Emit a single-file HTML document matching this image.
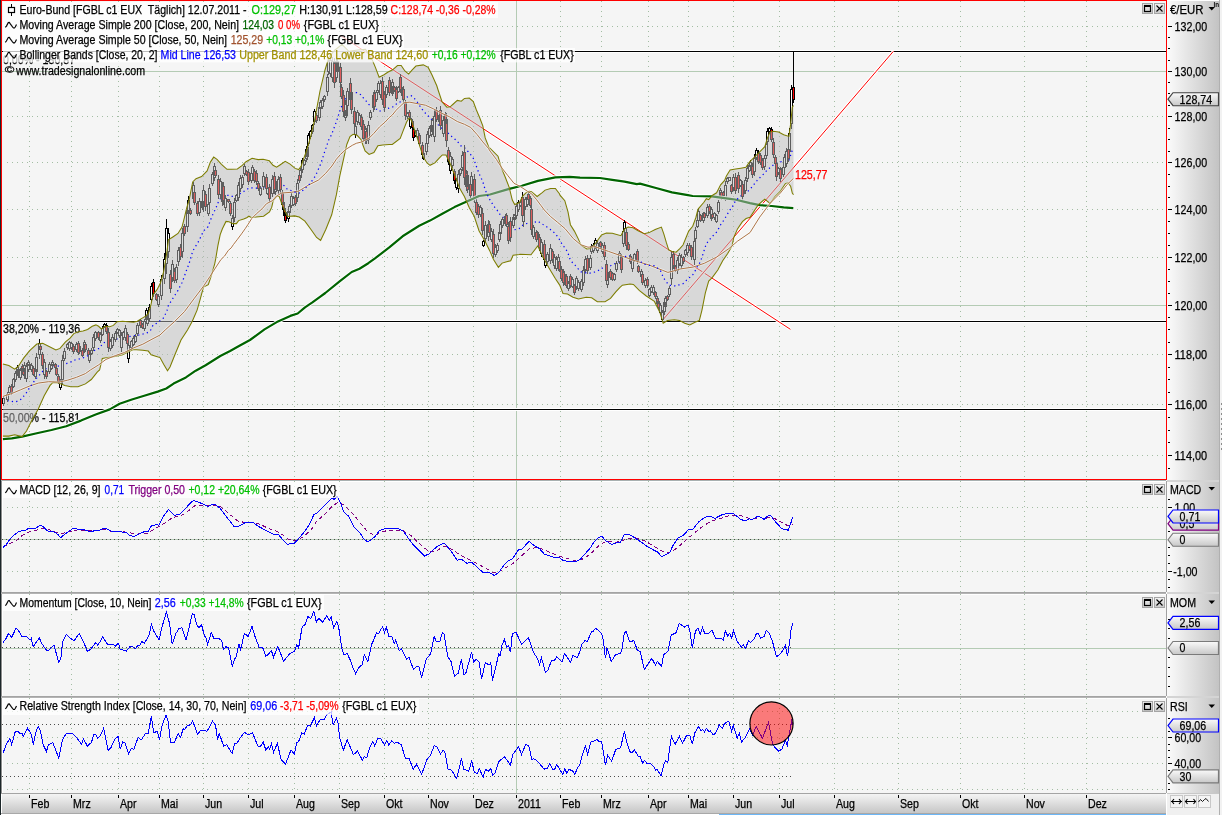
<!DOCTYPE html>
<html><head><meta charset="utf-8"><title>Euro-Bund Chart</title>
<style>html,body{margin:0;padding:0;background:#fff;overflow:hidden}svg{display:block}text{font-family:"Liberation Sans",sans-serif;white-space:pre}</style>
</head><body>
<svg width="1222" height="815" viewBox="0 0 1222 815">
<defs>
<linearGradient id="axg" x1="0" y1="0" x2="1" y2="0"><stop offset="0" stop-color="#fbfbfb"/><stop offset="1" stop-color="#c3c3c3"/></linearGradient>
<linearGradient id="xag" x1="0" y1="0" x2="0" y2="1"><stop offset="0" stop-color="#f4f4f4"/><stop offset="1" stop-color="#c6c6c6"/></linearGradient>
<linearGradient id="flg" x1="0" y1="0" x2="0" y2="1"><stop offset="0" stop-color="#fafafa"/><stop offset="1" stop-color="#c8c8c8"/></linearGradient>
<linearGradient id="btg" x1="0" y1="0" x2="0" y2="1"><stop offset="0" stop-color="#f4f4f4"/><stop offset="1" stop-color="#c8c8c8"/></linearGradient>
</defs>
<rect x="0" y="0" width="1222" height="815" fill="#ffffff" />
<rect x="0" y="0" width="1" height="815" fill="#1c2629" shape-rendering="crispEdges"/>
<rect x="2" y="1" width="1164" height="478" fill="#f5f5f5" />
<rect x="2" y="481" width="1164" height="111" fill="#f5f5f5" />
<rect x="2" y="481" width="1164" height="1" fill="#ffffff" shape-rendering="crispEdges"/>
<rect x="2" y="481" width="1" height="111" fill="#ffffff" shape-rendering="crispEdges"/>
<rect x="1" y="481" width="1" height="111" fill="#8e8e8e" shape-rendering="crispEdges"/>
<rect x="1166" y="481" width="1" height="111" fill="#a0a0a0" shape-rendering="crispEdges"/>
<rect x="2" y="594" width="1164" height="102" fill="#f5f5f5" />
<rect x="2" y="594" width="1164" height="1" fill="#ffffff" shape-rendering="crispEdges"/>
<rect x="2" y="594" width="1" height="102" fill="#ffffff" shape-rendering="crispEdges"/>
<rect x="1" y="594" width="1" height="102" fill="#8e8e8e" shape-rendering="crispEdges"/>
<rect x="1166" y="594" width="1" height="102" fill="#a0a0a0" shape-rendering="crispEdges"/>
<rect x="2" y="698" width="1164" height="95" fill="#f5f5f5" />
<rect x="2" y="698" width="1164" height="1" fill="#ffffff" shape-rendering="crispEdges"/>
<rect x="2" y="698" width="1" height="95" fill="#ffffff" shape-rendering="crispEdges"/>
<rect x="1" y="698" width="1" height="95" fill="#8e8e8e" shape-rendering="crispEdges"/>
<rect x="1166" y="698" width="1" height="95" fill="#a0a0a0" shape-rendering="crispEdges"/>
<rect x="1" y="480" width="1165" height="1" fill="#a8b0b0" shape-rendering="crispEdges"/>
<rect x="1" y="592" width="1165" height="1" fill="#a4a4a4" shape-rendering="crispEdges"/>
<rect x="1" y="593" width="1165" height="1" fill="#b4b4b4" shape-rendering="crispEdges"/>
<rect x="1" y="696" width="1165" height="1" fill="#a4a4a4" shape-rendering="crispEdges"/>
<rect x="1" y="697" width="1165" height="1" fill="#b4b4b4" shape-rendering="crispEdges"/>
<rect x="1" y="793" width="1165" height="1" fill="#a4a4a4" shape-rendering="crispEdges"/>
<rect x="1167" y="1" width="52" height="793" fill="url(#axg)" />
<rect x="1167" y="480" width="52" height="2" fill="#d4d4d4" />
<rect x="1167" y="592" width="52" height="2" fill="#d4d4d4" />
<rect x="1167" y="696" width="52" height="2" fill="#d4d4d4" />
<rect x="1219" y="0" width="1" height="815" fill="#b0b0b0" shape-rendering="crispEdges"/>
<rect x="1220" y="0" width="2" height="815" fill="#f2f2f2" />
<rect x="1167" y="794" width="52" height="21" fill="#f0f0f0" />
<rect x="1167" y="793" width="52" height="1" fill="#c8c8c8" shape-rendering="crispEdges"/>
<rect x="2" y="794" width="1164" height="19" fill="url(#xag)" />
<rect x="1" y="794" width="1" height="19" fill="#ffffff" shape-rendering="crispEdges"/>
<rect x="1" y="813" width="1165" height="1" fill="#a8a8a8" shape-rendering="crispEdges"/>
<rect x="1" y="814" width="718" height="1" fill="#ffffff" shape-rendering="crispEdges"/>
<rect x="719" y="814" width="447" height="1" fill="#6cb6f6" shape-rendering="crispEdges"/>
<line x1="29.5" y1="1" x2="29.5" y2="479" stroke="#a3bda3" stroke-width="1" stroke-dasharray="1 4" stroke-dashoffset="0" shape-rendering="crispEdges"/>
<line x1="71.5" y1="1" x2="71.5" y2="479" stroke="#a3bda3" stroke-width="1" stroke-dasharray="1 4" stroke-dashoffset="0" shape-rendering="crispEdges"/>
<line x1="118.5" y1="1" x2="118.5" y2="479" stroke="#a3bda3" stroke-width="1" stroke-dasharray="1 4" stroke-dashoffset="0" shape-rendering="crispEdges"/>
<line x1="159.5" y1="1" x2="159.5" y2="479" stroke="#a3bda3" stroke-width="1" stroke-dasharray="1 4" stroke-dashoffset="0" shape-rendering="crispEdges"/>
<line x1="203.5" y1="1" x2="203.5" y2="479" stroke="#a3bda3" stroke-width="1" stroke-dasharray="1 4" stroke-dashoffset="0" shape-rendering="crispEdges"/>
<line x1="248.5" y1="1" x2="248.5" y2="479" stroke="#a3bda3" stroke-width="1" stroke-dasharray="1 4" stroke-dashoffset="0" shape-rendering="crispEdges"/>
<line x1="294.5" y1="1" x2="294.5" y2="479" stroke="#a3bda3" stroke-width="1" stroke-dasharray="1 4" stroke-dashoffset="0" shape-rendering="crispEdges"/>
<line x1="339.5" y1="1" x2="339.5" y2="479" stroke="#a3bda3" stroke-width="1" stroke-dasharray="1 4" stroke-dashoffset="0" shape-rendering="crispEdges"/>
<line x1="384.5" y1="1" x2="384.5" y2="479" stroke="#a3bda3" stroke-width="1" stroke-dasharray="1 4" stroke-dashoffset="0" shape-rendering="crispEdges"/>
<line x1="428.5" y1="1" x2="428.5" y2="479" stroke="#a3bda3" stroke-width="1" stroke-dasharray="1 4" stroke-dashoffset="0" shape-rendering="crispEdges"/>
<line x1="473.5" y1="1" x2="473.5" y2="479" stroke="#a3bda3" stroke-width="1" stroke-dasharray="1 4" stroke-dashoffset="0" shape-rendering="crispEdges"/>
<rect x="516" y="1" width="1" height="478" fill="#b4cbb4" shape-rendering="crispEdges"/>
<line x1="560.5" y1="1" x2="560.5" y2="479" stroke="#a3bda3" stroke-width="1" stroke-dasharray="1 4" stroke-dashoffset="0" shape-rendering="crispEdges"/>
<line x1="601.5" y1="1" x2="601.5" y2="479" stroke="#a3bda3" stroke-width="1" stroke-dasharray="1 4" stroke-dashoffset="0" shape-rendering="crispEdges"/>
<line x1="648.5" y1="1" x2="648.5" y2="479" stroke="#a3bda3" stroke-width="1" stroke-dasharray="1 4" stroke-dashoffset="0" shape-rendering="crispEdges"/>
<line x1="688.5" y1="1" x2="688.5" y2="479" stroke="#a3bda3" stroke-width="1" stroke-dasharray="1 4" stroke-dashoffset="0" shape-rendering="crispEdges"/>
<line x1="733.5" y1="1" x2="733.5" y2="479" stroke="#a3bda3" stroke-width="1" stroke-dasharray="1 4" stroke-dashoffset="0" shape-rendering="crispEdges"/>
<line x1="779.5" y1="1" x2="779.5" y2="479" stroke="#a3bda3" stroke-width="1" stroke-dasharray="1 4" stroke-dashoffset="0" shape-rendering="crispEdges"/>
<line x1="834.5" y1="1" x2="834.5" y2="479" stroke="#a3bda3" stroke-width="1" stroke-dasharray="1 4" stroke-dashoffset="0" shape-rendering="crispEdges"/>
<line x1="898.5" y1="1" x2="898.5" y2="479" stroke="#a3bda3" stroke-width="1" stroke-dasharray="1 4" stroke-dashoffset="0" shape-rendering="crispEdges"/>
<line x1="960.5" y1="1" x2="960.5" y2="479" stroke="#a3bda3" stroke-width="1" stroke-dasharray="1 4" stroke-dashoffset="0" shape-rendering="crispEdges"/>
<line x1="1024.5" y1="1" x2="1024.5" y2="479" stroke="#a3bda3" stroke-width="1" stroke-dasharray="1 4" stroke-dashoffset="0" shape-rendering="crispEdges"/>
<line x1="1086.5" y1="1" x2="1086.5" y2="479" stroke="#a3bda3" stroke-width="1" stroke-dasharray="1 4" stroke-dashoffset="0" shape-rendering="crispEdges"/>
<line x1="3" y1="26.5" x2="1165" y2="26.5" stroke="#a3bda3" stroke-width="1" stroke-dasharray="1 4" stroke-dashoffset="1" shape-rendering="crispEdges"/>
<line x1="3" y1="116.5" x2="1165" y2="116.5" stroke="#a3bda3" stroke-width="1" stroke-dasharray="1 4" stroke-dashoffset="1" shape-rendering="crispEdges"/>
<line x1="3" y1="162.5" x2="1165" y2="162.5" stroke="#a3bda3" stroke-width="1" stroke-dasharray="1 4" stroke-dashoffset="1" shape-rendering="crispEdges"/>
<line x1="3" y1="209.5" x2="1165" y2="209.5" stroke="#a3bda3" stroke-width="1" stroke-dasharray="1 4" stroke-dashoffset="1" shape-rendering="crispEdges"/>
<line x1="3" y1="257.5" x2="1165" y2="257.5" stroke="#a3bda3" stroke-width="1" stroke-dasharray="1 4" stroke-dashoffset="1" shape-rendering="crispEdges"/>
<line x1="3" y1="354.5" x2="1165" y2="354.5" stroke="#a3bda3" stroke-width="1" stroke-dasharray="1 4" stroke-dashoffset="1" shape-rendering="crispEdges"/>
<line x1="3" y1="404.5" x2="1165" y2="404.5" stroke="#a3bda3" stroke-width="1" stroke-dasharray="1 4" stroke-dashoffset="1" shape-rendering="crispEdges"/>
<line x1="3" y1="455.5" x2="1165" y2="455.5" stroke="#a3bda3" stroke-width="1" stroke-dasharray="1 4" stroke-dashoffset="1" shape-rendering="crispEdges"/>
<rect x="2" y="71" width="1164" height="1" fill="#b4cbb4" shape-rendering="crispEdges"/>
<rect x="2" y="305" width="1164" height="1" fill="#b4cbb4" shape-rendering="crispEdges"/>
<line x1="29.5" y1="481" x2="29.5" y2="592" stroke="#a3bda3" stroke-width="1" stroke-dasharray="1 4" stroke-dashoffset="0" shape-rendering="crispEdges"/>
<line x1="71.5" y1="481" x2="71.5" y2="592" stroke="#a3bda3" stroke-width="1" stroke-dasharray="1 4" stroke-dashoffset="0" shape-rendering="crispEdges"/>
<line x1="118.5" y1="481" x2="118.5" y2="592" stroke="#a3bda3" stroke-width="1" stroke-dasharray="1 4" stroke-dashoffset="0" shape-rendering="crispEdges"/>
<line x1="159.5" y1="481" x2="159.5" y2="592" stroke="#a3bda3" stroke-width="1" stroke-dasharray="1 4" stroke-dashoffset="0" shape-rendering="crispEdges"/>
<line x1="203.5" y1="481" x2="203.5" y2="592" stroke="#a3bda3" stroke-width="1" stroke-dasharray="1 4" stroke-dashoffset="0" shape-rendering="crispEdges"/>
<line x1="248.5" y1="481" x2="248.5" y2="592" stroke="#a3bda3" stroke-width="1" stroke-dasharray="1 4" stroke-dashoffset="0" shape-rendering="crispEdges"/>
<line x1="294.5" y1="481" x2="294.5" y2="592" stroke="#a3bda3" stroke-width="1" stroke-dasharray="1 4" stroke-dashoffset="0" shape-rendering="crispEdges"/>
<line x1="339.5" y1="481" x2="339.5" y2="592" stroke="#a3bda3" stroke-width="1" stroke-dasharray="1 4" stroke-dashoffset="0" shape-rendering="crispEdges"/>
<line x1="384.5" y1="481" x2="384.5" y2="592" stroke="#a3bda3" stroke-width="1" stroke-dasharray="1 4" stroke-dashoffset="0" shape-rendering="crispEdges"/>
<line x1="428.5" y1="481" x2="428.5" y2="592" stroke="#a3bda3" stroke-width="1" stroke-dasharray="1 4" stroke-dashoffset="0" shape-rendering="crispEdges"/>
<line x1="473.5" y1="481" x2="473.5" y2="592" stroke="#a3bda3" stroke-width="1" stroke-dasharray="1 4" stroke-dashoffset="0" shape-rendering="crispEdges"/>
<rect x="516" y="481" width="1" height="111" fill="#b4cbb4" shape-rendering="crispEdges"/>
<line x1="560.5" y1="481" x2="560.5" y2="592" stroke="#a3bda3" stroke-width="1" stroke-dasharray="1 4" stroke-dashoffset="0" shape-rendering="crispEdges"/>
<line x1="601.5" y1="481" x2="601.5" y2="592" stroke="#a3bda3" stroke-width="1" stroke-dasharray="1 4" stroke-dashoffset="0" shape-rendering="crispEdges"/>
<line x1="648.5" y1="481" x2="648.5" y2="592" stroke="#a3bda3" stroke-width="1" stroke-dasharray="1 4" stroke-dashoffset="0" shape-rendering="crispEdges"/>
<line x1="688.5" y1="481" x2="688.5" y2="592" stroke="#a3bda3" stroke-width="1" stroke-dasharray="1 4" stroke-dashoffset="0" shape-rendering="crispEdges"/>
<line x1="733.5" y1="481" x2="733.5" y2="592" stroke="#a3bda3" stroke-width="1" stroke-dasharray="1 4" stroke-dashoffset="0" shape-rendering="crispEdges"/>
<line x1="779.5" y1="481" x2="779.5" y2="592" stroke="#a3bda3" stroke-width="1" stroke-dasharray="1 4" stroke-dashoffset="0" shape-rendering="crispEdges"/>
<line x1="834.5" y1="481" x2="834.5" y2="592" stroke="#a3bda3" stroke-width="1" stroke-dasharray="1 4" stroke-dashoffset="0" shape-rendering="crispEdges"/>
<line x1="898.5" y1="481" x2="898.5" y2="592" stroke="#a3bda3" stroke-width="1" stroke-dasharray="1 4" stroke-dashoffset="0" shape-rendering="crispEdges"/>
<line x1="960.5" y1="481" x2="960.5" y2="592" stroke="#a3bda3" stroke-width="1" stroke-dasharray="1 4" stroke-dashoffset="0" shape-rendering="crispEdges"/>
<line x1="1024.5" y1="481" x2="1024.5" y2="592" stroke="#a3bda3" stroke-width="1" stroke-dasharray="1 4" stroke-dashoffset="0" shape-rendering="crispEdges"/>
<line x1="1086.5" y1="481" x2="1086.5" y2="592" stroke="#a3bda3" stroke-width="1" stroke-dasharray="1 4" stroke-dashoffset="0" shape-rendering="crispEdges"/>
<line x1="3" y1="507.5" x2="1165" y2="507.5" stroke="#a3bda3" stroke-width="1" stroke-dasharray="1 4" stroke-dashoffset="1" shape-rendering="crispEdges"/>
<line x1="3" y1="571.5" x2="1165" y2="571.5" stroke="#a3bda3" stroke-width="1" stroke-dasharray="1 4" stroke-dashoffset="1" shape-rendering="crispEdges"/>
<rect x="2" y="539" width="1164" height="1" fill="#b4cbb4" shape-rendering="crispEdges"/>
<line x1="29.5" y1="594" x2="29.5" y2="696" stroke="#a3bda3" stroke-width="1" stroke-dasharray="1 4" stroke-dashoffset="0" shape-rendering="crispEdges"/>
<line x1="71.5" y1="594" x2="71.5" y2="696" stroke="#a3bda3" stroke-width="1" stroke-dasharray="1 4" stroke-dashoffset="0" shape-rendering="crispEdges"/>
<line x1="118.5" y1="594" x2="118.5" y2="696" stroke="#a3bda3" stroke-width="1" stroke-dasharray="1 4" stroke-dashoffset="0" shape-rendering="crispEdges"/>
<line x1="159.5" y1="594" x2="159.5" y2="696" stroke="#a3bda3" stroke-width="1" stroke-dasharray="1 4" stroke-dashoffset="0" shape-rendering="crispEdges"/>
<line x1="203.5" y1="594" x2="203.5" y2="696" stroke="#a3bda3" stroke-width="1" stroke-dasharray="1 4" stroke-dashoffset="0" shape-rendering="crispEdges"/>
<line x1="248.5" y1="594" x2="248.5" y2="696" stroke="#a3bda3" stroke-width="1" stroke-dasharray="1 4" stroke-dashoffset="0" shape-rendering="crispEdges"/>
<line x1="294.5" y1="594" x2="294.5" y2="696" stroke="#a3bda3" stroke-width="1" stroke-dasharray="1 4" stroke-dashoffset="0" shape-rendering="crispEdges"/>
<line x1="339.5" y1="594" x2="339.5" y2="696" stroke="#a3bda3" stroke-width="1" stroke-dasharray="1 4" stroke-dashoffset="0" shape-rendering="crispEdges"/>
<line x1="384.5" y1="594" x2="384.5" y2="696" stroke="#a3bda3" stroke-width="1" stroke-dasharray="1 4" stroke-dashoffset="0" shape-rendering="crispEdges"/>
<line x1="428.5" y1="594" x2="428.5" y2="696" stroke="#a3bda3" stroke-width="1" stroke-dasharray="1 4" stroke-dashoffset="0" shape-rendering="crispEdges"/>
<line x1="473.5" y1="594" x2="473.5" y2="696" stroke="#a3bda3" stroke-width="1" stroke-dasharray="1 4" stroke-dashoffset="0" shape-rendering="crispEdges"/>
<rect x="516" y="594" width="1" height="102" fill="#b4cbb4" shape-rendering="crispEdges"/>
<line x1="560.5" y1="594" x2="560.5" y2="696" stroke="#a3bda3" stroke-width="1" stroke-dasharray="1 4" stroke-dashoffset="0" shape-rendering="crispEdges"/>
<line x1="601.5" y1="594" x2="601.5" y2="696" stroke="#a3bda3" stroke-width="1" stroke-dasharray="1 4" stroke-dashoffset="0" shape-rendering="crispEdges"/>
<line x1="648.5" y1="594" x2="648.5" y2="696" stroke="#a3bda3" stroke-width="1" stroke-dasharray="1 4" stroke-dashoffset="0" shape-rendering="crispEdges"/>
<line x1="688.5" y1="594" x2="688.5" y2="696" stroke="#a3bda3" stroke-width="1" stroke-dasharray="1 4" stroke-dashoffset="0" shape-rendering="crispEdges"/>
<line x1="733.5" y1="594" x2="733.5" y2="696" stroke="#a3bda3" stroke-width="1" stroke-dasharray="1 4" stroke-dashoffset="0" shape-rendering="crispEdges"/>
<line x1="779.5" y1="594" x2="779.5" y2="696" stroke="#a3bda3" stroke-width="1" stroke-dasharray="1 4" stroke-dashoffset="0" shape-rendering="crispEdges"/>
<line x1="834.5" y1="594" x2="834.5" y2="696" stroke="#a3bda3" stroke-width="1" stroke-dasharray="1 4" stroke-dashoffset="0" shape-rendering="crispEdges"/>
<line x1="898.5" y1="594" x2="898.5" y2="696" stroke="#a3bda3" stroke-width="1" stroke-dasharray="1 4" stroke-dashoffset="0" shape-rendering="crispEdges"/>
<line x1="960.5" y1="594" x2="960.5" y2="696" stroke="#a3bda3" stroke-width="1" stroke-dasharray="1 4" stroke-dashoffset="0" shape-rendering="crispEdges"/>
<line x1="1024.5" y1="594" x2="1024.5" y2="696" stroke="#a3bda3" stroke-width="1" stroke-dasharray="1 4" stroke-dashoffset="0" shape-rendering="crispEdges"/>
<line x1="1086.5" y1="594" x2="1086.5" y2="696" stroke="#a3bda3" stroke-width="1" stroke-dasharray="1 4" stroke-dashoffset="0" shape-rendering="crispEdges"/>
<rect x="2" y="648" width="1164" height="1" fill="#b4cbb4" shape-rendering="crispEdges"/>
<line x1="29.5" y1="698" x2="29.5" y2="793" stroke="#a3bda3" stroke-width="1" stroke-dasharray="1 4" stroke-dashoffset="0" shape-rendering="crispEdges"/>
<line x1="71.5" y1="698" x2="71.5" y2="793" stroke="#a3bda3" stroke-width="1" stroke-dasharray="1 4" stroke-dashoffset="0" shape-rendering="crispEdges"/>
<line x1="118.5" y1="698" x2="118.5" y2="793" stroke="#a3bda3" stroke-width="1" stroke-dasharray="1 4" stroke-dashoffset="0" shape-rendering="crispEdges"/>
<line x1="159.5" y1="698" x2="159.5" y2="793" stroke="#a3bda3" stroke-width="1" stroke-dasharray="1 4" stroke-dashoffset="0" shape-rendering="crispEdges"/>
<line x1="203.5" y1="698" x2="203.5" y2="793" stroke="#a3bda3" stroke-width="1" stroke-dasharray="1 4" stroke-dashoffset="0" shape-rendering="crispEdges"/>
<line x1="248.5" y1="698" x2="248.5" y2="793" stroke="#a3bda3" stroke-width="1" stroke-dasharray="1 4" stroke-dashoffset="0" shape-rendering="crispEdges"/>
<line x1="294.5" y1="698" x2="294.5" y2="793" stroke="#a3bda3" stroke-width="1" stroke-dasharray="1 4" stroke-dashoffset="0" shape-rendering="crispEdges"/>
<line x1="339.5" y1="698" x2="339.5" y2="793" stroke="#a3bda3" stroke-width="1" stroke-dasharray="1 4" stroke-dashoffset="0" shape-rendering="crispEdges"/>
<line x1="384.5" y1="698" x2="384.5" y2="793" stroke="#a3bda3" stroke-width="1" stroke-dasharray="1 4" stroke-dashoffset="0" shape-rendering="crispEdges"/>
<line x1="428.5" y1="698" x2="428.5" y2="793" stroke="#a3bda3" stroke-width="1" stroke-dasharray="1 4" stroke-dashoffset="0" shape-rendering="crispEdges"/>
<line x1="473.5" y1="698" x2="473.5" y2="793" stroke="#a3bda3" stroke-width="1" stroke-dasharray="1 4" stroke-dashoffset="0" shape-rendering="crispEdges"/>
<rect x="516" y="698" width="1" height="95" fill="#b4cbb4" shape-rendering="crispEdges"/>
<line x1="560.5" y1="698" x2="560.5" y2="793" stroke="#a3bda3" stroke-width="1" stroke-dasharray="1 4" stroke-dashoffset="0" shape-rendering="crispEdges"/>
<line x1="601.5" y1="698" x2="601.5" y2="793" stroke="#a3bda3" stroke-width="1" stroke-dasharray="1 4" stroke-dashoffset="0" shape-rendering="crispEdges"/>
<line x1="648.5" y1="698" x2="648.5" y2="793" stroke="#a3bda3" stroke-width="1" stroke-dasharray="1 4" stroke-dashoffset="0" shape-rendering="crispEdges"/>
<line x1="688.5" y1="698" x2="688.5" y2="793" stroke="#a3bda3" stroke-width="1" stroke-dasharray="1 4" stroke-dashoffset="0" shape-rendering="crispEdges"/>
<line x1="733.5" y1="698" x2="733.5" y2="793" stroke="#a3bda3" stroke-width="1" stroke-dasharray="1 4" stroke-dashoffset="0" shape-rendering="crispEdges"/>
<line x1="779.5" y1="698" x2="779.5" y2="793" stroke="#a3bda3" stroke-width="1" stroke-dasharray="1 4" stroke-dashoffset="0" shape-rendering="crispEdges"/>
<line x1="834.5" y1="698" x2="834.5" y2="793" stroke="#a3bda3" stroke-width="1" stroke-dasharray="1 4" stroke-dashoffset="0" shape-rendering="crispEdges"/>
<line x1="898.5" y1="698" x2="898.5" y2="793" stroke="#a3bda3" stroke-width="1" stroke-dasharray="1 4" stroke-dashoffset="0" shape-rendering="crispEdges"/>
<line x1="960.5" y1="698" x2="960.5" y2="793" stroke="#a3bda3" stroke-width="1" stroke-dasharray="1 4" stroke-dashoffset="0" shape-rendering="crispEdges"/>
<line x1="1024.5" y1="698" x2="1024.5" y2="793" stroke="#a3bda3" stroke-width="1" stroke-dasharray="1 4" stroke-dashoffset="0" shape-rendering="crispEdges"/>
<line x1="1086.5" y1="698" x2="1086.5" y2="793" stroke="#a3bda3" stroke-width="1" stroke-dasharray="1 4" stroke-dashoffset="0" shape-rendering="crispEdges"/>
<line x1="3" y1="711.5" x2="1165" y2="711.5" stroke="#a3bda3" stroke-width="1" stroke-dasharray="1 4" stroke-dashoffset="1" shape-rendering="crispEdges"/>
<line x1="3" y1="737.5" x2="1165" y2="737.5" stroke="#a3bda3" stroke-width="1" stroke-dasharray="1 4" stroke-dashoffset="1" shape-rendering="crispEdges"/>
<line x1="3" y1="763.5" x2="1165" y2="763.5" stroke="#a3bda3" stroke-width="1" stroke-dasharray="1 4" stroke-dashoffset="1" shape-rendering="crispEdges"/>
<line x1="3" y1="789.5" x2="1165" y2="789.5" stroke="#a3bda3" stroke-width="1" stroke-dasharray="1 4" stroke-dashoffset="1" shape-rendering="crispEdges"/>
<text x="3" y="333" fill="#000" stroke="#000" stroke-width="0.25" font-size="12" textLength="77.2" lengthAdjust="spacingAndGlyphs" >38,20% - 119,36</text>
<text x="3" y="421.5" fill="#000" stroke="#000" stroke-width="0.25" font-size="12" textLength="77.2" lengthAdjust="spacingAndGlyphs" >50,00% - 115,81</text>
<text x="3" y="63.7" fill="#000" stroke="#000" stroke-width="0.25" font-size="12" textLength="72.1" lengthAdjust="spacingAndGlyphs" >0,00% - 130,87</text>
<rect x="2" y="50" width="1164" height="1" fill="#ffffff" shape-rendering="crispEdges"/>
<rect x="2" y="52" width="1164" height="1" fill="#ffffff" shape-rendering="crispEdges"/>
<rect x="2" y="51" width="1164" height="1" fill="#000000" shape-rendering="crispEdges"/>
<rect x="2" y="320" width="1164" height="1" fill="#ffffff" shape-rendering="crispEdges"/>
<rect x="2" y="322" width="1164" height="1" fill="#ffffff" shape-rendering="crispEdges"/>
<rect x="2" y="321" width="1164" height="1" fill="#000000" shape-rendering="crispEdges"/>
<rect x="2" y="408" width="1164" height="1" fill="#ffffff" shape-rendering="crispEdges"/>
<rect x="2" y="410" width="1164" height="1" fill="#ffffff" shape-rendering="crispEdges"/>
<rect x="2" y="409" width="1164" height="1" fill="#000000" shape-rendering="crispEdges"/>
<polyline points="340.0,35.2 790.4,329.3" fill="none" stroke="#ffffff" stroke-width="3" stroke-linejoin="round" />
<polyline points="340.0,35.2 790.4,329.3" fill="none" stroke="#ff0000" stroke-width="1" stroke-linejoin="round" />
<polyline points="663.0,319.7 893.4,51.3" fill="none" stroke="#ffffff" stroke-width="3" stroke-linejoin="round" />
<polyline points="663.0,319.7 893.4,51.3" fill="none" stroke="#ff0000" stroke-width="1" stroke-linejoin="round" />
<path d="M3.5 396V406M7.5 392V402M9.5 385V395M11.5 384V395M13.5 378V388M15.5 371V382M17.5 365V376M18.5 367V378M20.5 368V380M22.5 364V374M23.5 366V376M24.5 362V379M26.5 363V382M28.5 360V372M29.5 363V366M31.5 363V372M33.5 366V376M35.5 368V379M36.5 353V376M39.5 339V359M40.5 344V351M42.5 352V369M44.5 359V379M46.5 370V379M49.5 362V374M51.5 363V370M52.5 360V368M55.5 363V369M56.5 366V376M58.5 374V384M60.5 379V390M62.5 355V385M64.5 348V361M67.5 343V350M69.5 341V351M71.5 342V350M73.5 344V354M76.5 342V352M78.5 341V355M79.5 344V354M82.5 348V357M84.5 340V353M85.5 343V352M88.5 348V356M89.5 350V363M91.5 348V355M93.5 334V351M95.5 331V341M98.5 331V340M100.5 332V343M102.5 326V336M104.5 323V328M106.5 323V334M108.5 328V352M110.5 339V351M112.5 334V348M115.5 331V342M117.5 328V334M119.5 329V338M121.5 332V352M123.5 331V340M125.5 325V341M127.5 332V346M128.5 341V363M131.5 340V350M133.5 336V346M135.5 334V343M137.5 323V336M140.5 319V328M142.5 323V329M144.5 319V331M146.5 308V323M147.5 312V326M149.5 304V322M151.5 283V303M153.5 279V297M156.5 293V301M158.5 294V307M161.5 275V300M164.5 253V284M166.5 219V274M168.5 228V258M170.5 270V293M172.5 260V282M174.5 268V283M176.5 264V283M178.5 247V266M180.5 244V260M182.5 228V258M184.5 224V236M187.5 205V232M188.5 196V217M190.5 208V215M193.5 182V202M194.5 190V205M197.5 201V216M199.5 198V216M202.5 200V210M203.5 185V212M205.5 191V211M208.5 202V216M209.5 184V206M212.5 172V186M214.5 163V181M215.5 169V178M218.5 175V199M220.5 178V199M222.5 182V206M223.5 182V205M225.5 195V211M228.5 199V203M230.5 201V216M232.5 215V230M234.5 198V222M236.5 194V202M238.5 182V201M240.5 175V192M242.5 175V188M244.5 164V176M246.5 170V176M248.5 169V185M251.5 171V183M252.5 165V175M254.5 169V183M256.5 170V185M258.5 181V191M260.5 186V196M263.5 172V190M266.5 174V192M267.5 185V195M269.5 184V202M272.5 175V197M274.5 172V194M275.5 178V195M278.5 176V194M280.5 174V193M282.5 190V208M283.5 200V212M284.5 206V218M285.5 210V223M288.5 208V222M289.5 204V215M291.5 193V208M293.5 196V206M295.5 195V206M297.5 179V202M299.5 173V183M300.5 168V180M302.5 158V173M304.5 159V166M306.5 146V162M307.5 144V160M308.5 133V146M310.5 130V139M312.5 124V134M314.5 109V125M316.5 113V123M319.5 104V121M320.5 100V111M322.5 98V109M324.5 95V102M327.5 74V96M328.5 58V75M330.5 57V77M332.5 57V82M334.5 58V88M336.5 57V82M337.5 58V75M340.5 63V88M341.5 84V99M343.5 90V117M345.5 100V121M346.5 109V118M347.5 88V110M350.5 78V104M351.5 88V114M354.5 107V127M355.5 124V138M357.5 110V125M359.5 113V125M361.5 114V130M363.5 120V142M365.5 126V144M366.5 128V144M368.5 121V144M370.5 110V120M373.5 92V112M374.5 90V110M376.5 90V102M378.5 81V93M380.5 80V98M382.5 77V105M384.5 91V112M386.5 85V98M389.5 77V96M391.5 85V94M392.5 79V96M394.5 86V92M396.5 86V101M398.5 86V93M400.5 74V93M402.5 87V98M403.5 86V103M405.5 100V120M407.5 112V119M409.5 110V119M410.5 116V129M412.5 119V130M413.5 127V141M415.5 130V137M417.5 128V138M419.5 133V146M422.5 142V158M423.5 151V160M426.5 141V155M427.5 131V146M429.5 126V138M431.5 122V137M432.5 118V135M434.5 110V142M436.5 107V122M439.5 113V123M440.5 106V130M443.5 116V137M445.5 112V127M446.5 113V147M448.5 147V165M450.5 152V174M452.5 157V168M454.5 169V184M456.5 178V190M458.5 170V193M460.5 168V176M462.5 151V171M464.5 145V185M466.5 170V191M467.5 171V193M470.5 182V199M471.5 172V194M474.5 174V203M476.5 199V215M478.5 204V218M480.5 205V217M482.5 208V235M483.5 240V247M485.5 221V242M488.5 220V241M489.5 221V235M491.5 228V242M493.5 229V258M495.5 244V257M497.5 243V253M499.5 229V242M500.5 221V236M502.5 217V228M505.5 214V226M506.5 213V227M508.5 222V244M510.5 217V242M513.5 214V228M514.5 214V221M516.5 204V219M518.5 200V212M520.5 201V207M522.5 192V221M523.5 199V227M525.5 197V210M527.5 194V207M528.5 192V201M530.5 196V208M531.5 204V235M533.5 225V239M536.5 230V242M537.5 231V240M539.5 234V251M541.5 239V257M544.5 240V264M545.5 255V268M547.5 252V264M550.5 244V264M552.5 249V263M554.5 254V269M556.5 256V271M558.5 254V271M559.5 259V272M561.5 266V281M563.5 269V286M564.5 271V285M566.5 274V288M568.5 281V291M570.5 274V288M572.5 277V288M574.5 284V295M576.5 276V290M578.5 280V291M581.5 279V292M583.5 266V286M585.5 256V272M587.5 255V274M590.5 255V270M591.5 244V254M593.5 243V253M595.5 238V249M597.5 241V253M600.5 241V249M602.5 243V254M604.5 242V260M606.5 260V285M607.5 269V288M610.5 269V280M612.5 272V281M614.5 273V281M616.5 261V272M619.5 251V264M621.5 254V273M623.5 227V247M624.5 220V231M626.5 228V250M628.5 242V251M630.5 254V264M632.5 258V272M634.5 253V262M637.5 249V264M638.5 265V273M641.5 269V278M642.5 272V285M645.5 278V288M647.5 277V288M649.5 288V297M651.5 285V293M653.5 285V295M655.5 291V299M657.5 296V305M658.5 299V310M660.5 303V315M662.5 310V322M664.5 299V315M665.5 296V310M667.5 295V301M669.5 286V297M671.5 251V285M673.5 251V269M675.5 265V272M677.5 257V274M679.5 253V266M681.5 254V269M683.5 256V264M685.5 249V257M687.5 243V256M689.5 243V251M691.5 245V260M694.5 237V265M695.5 227V242M697.5 218V228M698.5 208V223M700.5 214V222M703.5 212V223M704.5 212V220M707.5 204V218M709.5 204V214M711.5 207V221M712.5 213V218M714.5 212V220M716.5 214V223M718.5 200V214M720.5 188V198M721.5 191V200M723.5 191V198M725.5 181V201M727.5 177V184M729.5 177V181M731.5 184V194M733.5 174V191M735.5 173V194M738.5 172V193M740.5 179V187M742.5 181V200M743.5 184V196M745.5 177V194M747.5 165V182M749.5 164V172M750.5 160V169M752.5 163V178M754.5 154V176M756.5 148V160M758.5 150V164M760.5 153V165M762.5 158V170M764.5 155V170M766.5 141V159M767.5 128V145M769.5 127V134M771.5 127V142M773.5 138V158M775.5 155V166M776.5 159V181M778.5 167V175M780.5 167V182M781.5 168V177M783.5 165V177M784.5 154V171M786.5 148V167M788.5 146V162M789.5 128V157M791.5 85V129M793.5 51V103" stroke="#000" stroke-width="1" fill="none" shape-rendering="crispEdges"/>
<path d="M2.5 398.5h2v5h-2zM6.5 394.5h2v5h-2zM8.5 387.5h2v5h-2zM12.5 379.5h2v7h-2zM14.5 373.5h2v6h-2zM16.5 367.5h2v7h-2zM17.5 369.5h2v6h-2zM19.5 370.5h2v7h-2zM23.5 365.5h2v10h-2zM25.5 366.5h2v12h-2zM27.5 362.5h2v7h-2zM30.5 365.5h2v4h-2zM34.5 369.5h2v7h-2zM35.5 357.5h2v14h-2zM38.5 343.5h2v11h-2zM43.5 362.5h2v12h-2zM48.5 364.5h2v7h-2zM50.5 364.5h2v4h-2zM51.5 362.5h2v3h-2zM59.5 380.5h2v7h-2zM61.5 360.5h2v19h-2zM63.5 351.5h2v7h-2zM66.5 344.5h2v3h-2zM68.5 342.5h2v6h-2zM70.5 343.5h2v4h-2zM75.5 344.5h2v5h-2zM78.5 346.5h2v5h-2zM83.5 342.5h2v8h-2zM88.5 352.5h2v8h-2zM90.5 350.5h2v3h-2zM92.5 337.5h2v10h-2zM94.5 332.5h2v6h-2zM99.5 334.5h2v6h-2zM101.5 328.5h2v6h-2zM103.5 324.5h2v2h-2zM109.5 341.5h2v7h-2zM111.5 337.5h2v8h-2zM114.5 333.5h2v6h-2zM116.5 329.5h2v3h-2zM118.5 330.5h2v5h-2zM120.5 335.5h2v12h-2zM122.5 332.5h2v5h-2zM124.5 328.5h2v9h-2zM127.5 345.5h2v13h-2zM130.5 341.5h2v6h-2zM132.5 338.5h2v6h-2zM134.5 336.5h2v5h-2zM136.5 325.5h2v8h-2zM143.5 321.5h2v7h-2zM145.5 310.5h2v9h-2zM146.5 315.5h2v8h-2zM148.5 307.5h2v11h-2zM150.5 286.5h2v13h-2zM157.5 296.5h2v8h-2zM160.5 279.5h2v16h-2zM163.5 259.5h2v19h-2zM165.5 228.5h2v35h-2zM167.5 233.5h2v18h-2zM171.5 264.5h2v13h-2zM175.5 267.5h2v12h-2zM177.5 250.5h2v11h-2zM181.5 233.5h2v18h-2zM186.5 210.5h2v16h-2zM187.5 200.5h2v13h-2zM192.5 185.5h2v13h-2zM198.5 201.5h2v11h-2zM201.5 201.5h2v6h-2zM202.5 190.5h2v16h-2zM207.5 204.5h2v9h-2zM208.5 188.5h2v14h-2zM211.5 174.5h2v9h-2zM213.5 166.5h2v11h-2zM219.5 181.5h2v13h-2zM221.5 186.5h2v15h-2zM224.5 198.5h2v9h-2zM231.5 218.5h2v8h-2zM233.5 202.5h2v15h-2zM235.5 195.5h2v5h-2zM237.5 185.5h2v12h-2zM239.5 178.5h2v10h-2zM241.5 177.5h2v7h-2zM243.5 166.5h2v7h-2zM250.5 173.5h2v7h-2zM251.5 167.5h2v6h-2zM259.5 188.5h2v6h-2zM262.5 176.5h2v10h-2zM266.5 187.5h2v6h-2zM271.5 179.5h2v14h-2zM274.5 181.5h2v10h-2zM277.5 179.5h2v11h-2zM287.5 211.5h2v7h-2zM288.5 206.5h2v6h-2zM290.5 196.5h2v9h-2zM292.5 198.5h2v6h-2zM296.5 183.5h2v14h-2zM299.5 170.5h2v7h-2zM301.5 160.5h2v9h-2zM303.5 160.5h2v4h-2zM305.5 149.5h2v9h-2zM306.5 147.5h2v9h-2zM307.5 135.5h2v8h-2zM309.5 131.5h2v5h-2zM311.5 125.5h2v6h-2zM313.5 111.5h2v10h-2zM318.5 107.5h2v10h-2zM319.5 102.5h2v6h-2zM321.5 100.5h2v6h-2zM323.5 96.5h2v3h-2zM326.5 77.5h2v14h-2zM327.5 61.5h2v10h-2zM329.5 60.5h2v13h-2zM331.5 61.5h2v16h-2zM335.5 61.5h2v16h-2zM336.5 61.5h2v10h-2zM344.5 104.5h2v13h-2zM345.5 110.5h2v5h-2zM346.5 91.5h2v14h-2zM354.5 126.5h2v8h-2zM356.5 112.5h2v9h-2zM358.5 115.5h2v7h-2zM364.5 129.5h2v11h-2zM367.5 125.5h2v14h-2zM369.5 112.5h2v5h-2zM372.5 95.5h2v12h-2zM375.5 92.5h2v7h-2zM377.5 83.5h2v7h-2zM379.5 83.5h2v11h-2zM385.5 87.5h2v7h-2zM390.5 86.5h2v6h-2zM391.5 82.5h2v11h-2zM397.5 87.5h2v4h-2zM401.5 89.5h2v6h-2zM406.5 113.5h2v3h-2zM409.5 118.5h2v8h-2zM414.5 131.5h2v4h-2zM416.5 130.5h2v6h-2zM422.5 153.5h2v5h-2zM425.5 143.5h2v8h-2zM426.5 134.5h2v9h-2zM428.5 128.5h2v7h-2zM430.5 125.5h2v9h-2zM431.5 120.5h2v11h-2zM433.5 116.5h2v20h-2zM438.5 115.5h2v6h-2zM442.5 120.5h2v13h-2zM449.5 156.5h2v14h-2zM451.5 159.5h2v6h-2zM455.5 180.5h2v7h-2zM457.5 174.5h2v14h-2zM459.5 169.5h2v4h-2zM461.5 155.5h2v12h-2zM470.5 176.5h2v14h-2zM479.5 207.5h2v7h-2zM482.5 241.5h2v4h-2zM484.5 225.5h2v13h-2zM487.5 224.5h2v12h-2zM490.5 231.5h2v8h-2zM494.5 247.5h2v7h-2zM496.5 245.5h2v5h-2zM498.5 232.5h2v7h-2zM499.5 224.5h2v9h-2zM501.5 219.5h2v6h-2zM504.5 216.5h2v7h-2zM512.5 217.5h2v8h-2zM513.5 215.5h2v4h-2zM515.5 206.5h2v9h-2zM517.5 202.5h2v7h-2zM519.5 202.5h2v3h-2zM522.5 204.5h2v17h-2zM524.5 199.5h2v7h-2zM526.5 197.5h2v7h-2zM532.5 227.5h2v9h-2zM536.5 232.5h2v6h-2zM540.5 242.5h2v11h-2zM544.5 257.5h2v8h-2zM546.5 254.5h2v7h-2zM549.5 248.5h2v12h-2zM553.5 257.5h2v8h-2zM555.5 259.5h2v9h-2zM557.5 257.5h2v10h-2zM563.5 274.5h2v8h-2zM567.5 283.5h2v5h-2zM571.5 279.5h2v7h-2zM575.5 278.5h2v8h-2zM577.5 282.5h2v6h-2zM580.5 281.5h2v8h-2zM582.5 270.5h2v12h-2zM584.5 259.5h2v10h-2zM589.5 258.5h2v9h-2zM590.5 246.5h2v5h-2zM592.5 245.5h2v5h-2zM594.5 240.5h2v6h-2zM596.5 243.5h2v7h-2zM601.5 245.5h2v6h-2zM606.5 272.5h2v12h-2zM613.5 274.5h2v5h-2zM615.5 263.5h2v6h-2zM618.5 253.5h2v8h-2zM622.5 231.5h2v12h-2zM623.5 222.5h2v6h-2zM631.5 260.5h2v8h-2zM633.5 254.5h2v6h-2zM640.5 271.5h2v5h-2zM644.5 280.5h2v5h-2zM648.5 289.5h2v6h-2zM650.5 287.5h2v4h-2zM652.5 287.5h2v5h-2zM659.5 305.5h2v7h-2zM661.5 312.5h2v7h-2zM663.5 302.5h2v9h-2zM664.5 298.5h2v8h-2zM668.5 288.5h2v6h-2zM670.5 257.5h2v21h-2zM676.5 260.5h2v10h-2zM678.5 255.5h2v8h-2zM680.5 257.5h2v8h-2zM684.5 250.5h2v4h-2zM686.5 245.5h2v7h-2zM693.5 241.5h2v18h-2zM694.5 230.5h2v8h-2zM696.5 220.5h2v6h-2zM697.5 211.5h2v9h-2zM702.5 213.5h2v7h-2zM706.5 207.5h2v8h-2zM710.5 209.5h2v9h-2zM713.5 213.5h2v4h-2zM715.5 215.5h2v6h-2zM717.5 202.5h2v9h-2zM719.5 190.5h2v5h-2zM724.5 185.5h2v12h-2zM726.5 178.5h2v3h-2zM728.5 177.5h2v3h-2zM732.5 177.5h2v10h-2zM739.5 180.5h2v5h-2zM742.5 186.5h2v7h-2zM744.5 180.5h2v10h-2zM746.5 168.5h2v10h-2zM748.5 165.5h2v5h-2zM749.5 162.5h2v4h-2zM753.5 158.5h2v13h-2zM755.5 150.5h2v7h-2zM763.5 158.5h2v8h-2zM765.5 144.5h2v11h-2zM766.5 131.5h2v10h-2zM768.5 128.5h2v3h-2zM777.5 168.5h2v4h-2zM780.5 169.5h2v5h-2zM782.5 167.5h2v7h-2zM783.5 157.5h2v10h-2zM785.5 151.5h2v12h-2zM788.5 133.5h2v18h-2zM790.5 89.5h2v34h-2z" stroke="#000" stroke-width="1" fill="#ffffff" shape-rendering="crispEdges"/>
<path d="M10.5 386.5h2v6h-2zM21.5 366.5h2v5h-2zM22.5 368.5h2v6h-2zM28.5 364.5h2v1h-2zM32.5 368.5h2v6h-2zM39.5 346.5h2v3h-2zM41.5 354.5h2v11h-2zM45.5 371.5h2v5h-2zM54.5 364.5h2v3h-2zM55.5 368.5h2v6h-2zM57.5 376.5h2v5h-2zM72.5 346.5h2v5h-2zM77.5 343.5h2v9h-2zM81.5 350.5h2v5h-2zM84.5 344.5h2v5h-2zM87.5 350.5h2v4h-2zM97.5 332.5h2v5h-2zM105.5 325.5h2v6h-2zM107.5 332.5h2v15h-2zM126.5 334.5h2v9h-2zM139.5 320.5h2v5h-2zM141.5 324.5h2v3h-2zM152.5 282.5h2v11h-2zM155.5 294.5h2v5h-2zM169.5 274.5h2v14h-2zM173.5 271.5h2v9h-2zM179.5 247.5h2v9h-2zM183.5 226.5h2v7h-2zM189.5 210.5h2v3h-2zM193.5 192.5h2v10h-2zM196.5 203.5h2v10h-2zM204.5 194.5h2v12h-2zM214.5 170.5h2v5h-2zM217.5 179.5h2v15h-2zM222.5 186.5h2v14h-2zM227.5 199.5h2v2h-2zM229.5 203.5h2v10h-2zM245.5 171.5h2v3h-2zM247.5 172.5h2v9h-2zM253.5 171.5h2v9h-2zM255.5 173.5h2v8h-2zM257.5 183.5h2v5h-2zM265.5 177.5h2v11h-2zM268.5 187.5h2v11h-2zM273.5 176.5h2v13h-2zM279.5 177.5h2v12h-2zM281.5 193.5h2v11h-2zM282.5 202.5h2v7h-2zM283.5 208.5h2v7h-2zM284.5 212.5h2v8h-2zM294.5 197.5h2v6h-2zM298.5 175.5h2v5h-2zM315.5 115.5h2v5h-2zM333.5 63.5h2v19h-2zM339.5 67.5h2v15h-2zM340.5 87.5h2v9h-2zM342.5 95.5h2v16h-2zM349.5 83.5h2v16h-2zM350.5 92.5h2v17h-2zM353.5 111.5h2v12h-2zM360.5 117.5h2v9h-2zM362.5 124.5h2v14h-2zM365.5 131.5h2v9h-2zM373.5 93.5h2v13h-2zM381.5 81.5h2v18h-2zM383.5 94.5h2v13h-2zM388.5 80.5h2v12h-2zM393.5 87.5h2v3h-2zM395.5 89.5h2v9h-2zM399.5 77.5h2v12h-2zM402.5 89.5h2v10h-2zM404.5 103.5h2v12h-2zM408.5 112.5h2v4h-2zM411.5 121.5h2v6h-2zM412.5 129.5h2v8h-2zM418.5 135.5h2v8h-2zM421.5 145.5h2v9h-2zM435.5 110.5h2v9h-2zM439.5 110.5h2v15h-2zM444.5 114.5h2v9h-2zM445.5 119.5h2v21h-2zM447.5 150.5h2v11h-2zM453.5 171.5h2v9h-2zM463.5 152.5h2v25h-2zM465.5 173.5h2v13h-2zM466.5 175.5h2v14h-2zM469.5 184.5h2v11h-2zM473.5 179.5h2v18h-2zM475.5 202.5h2v10h-2zM477.5 206.5h2v8h-2zM481.5 213.5h2v17h-2zM488.5 224.5h2v8h-2zM492.5 234.5h2v19h-2zM505.5 215.5h2v9h-2zM507.5 226.5h2v14h-2zM509.5 221.5h2v16h-2zM521.5 197.5h2v18h-2zM527.5 194.5h2v5h-2zM529.5 198.5h2v7h-2zM530.5 209.5h2v20h-2zM535.5 232.5h2v7h-2zM538.5 237.5h2v10h-2zM543.5 244.5h2v15h-2zM551.5 251.5h2v8h-2zM558.5 261.5h2v8h-2zM560.5 269.5h2v9h-2zM562.5 272.5h2v10h-2zM565.5 276.5h2v9h-2zM569.5 276.5h2v9h-2zM573.5 285.5h2v7h-2zM586.5 258.5h2v12h-2zM599.5 242.5h2v4h-2zM603.5 245.5h2v11h-2zM605.5 264.5h2v16h-2zM609.5 271.5h2v6h-2zM611.5 273.5h2v6h-2zM620.5 257.5h2v12h-2zM625.5 232.5h2v13h-2zM627.5 244.5h2v5h-2zM629.5 256.5h2v5h-2zM636.5 251.5h2v9h-2zM637.5 266.5h2v5h-2zM641.5 274.5h2v8h-2zM646.5 279.5h2v6h-2zM654.5 292.5h2v4h-2zM656.5 298.5h2v5h-2zM657.5 301.5h2v6h-2zM666.5 296.5h2v3h-2zM672.5 254.5h2v11h-2zM674.5 266.5h2v4h-2zM682.5 257.5h2v4h-2zM688.5 245.5h2v4h-2zM690.5 247.5h2v9h-2zM699.5 215.5h2v5h-2zM703.5 213.5h2v4h-2zM708.5 206.5h2v5h-2zM711.5 214.5h2v3h-2zM720.5 192.5h2v5h-2zM722.5 192.5h2v3h-2zM730.5 185.5h2v6h-2zM734.5 177.5h2v13h-2zM737.5 175.5h2v13h-2zM741.5 184.5h2v12h-2zM751.5 166.5h2v8h-2zM757.5 153.5h2v8h-2zM759.5 155.5h2v7h-2zM761.5 160.5h2v7h-2zM770.5 129.5h2v10h-2zM772.5 142.5h2v12h-2zM774.5 157.5h2v6h-2zM775.5 163.5h2v13h-2zM779.5 169.5h2v9h-2zM787.5 149.5h2v9h-2zM792.5 87.5h2v12h-2z" stroke="#000" stroke-width="1" fill="#ff0000" shape-rendering="crispEdges"/>
<polyline points="2.9,439.1 11.8,438.4 22.1,436.6 36.8,433.2 51.5,430.0 66.2,426.2 81.0,420.6 95.7,414.5 109.8,409.4 119.6,403.8 131.9,399.5 144.2,395.8 157.7,391.6 166.3,388.5 173.6,383.6 185.9,377.4 195.7,370.7 205.6,365.2 220.3,356.0 230.1,351.0 239.9,345.5 250.0,340.0 264.5,329.4 278.0,321.4 290.3,315.9 297.7,313.5 305.0,307.3 312.4,302.4 320.0,296.9 325.3,293.0 339.6,281.4 351.7,272.0 359.5,268.7 368.3,263.2 375.0,258.4 389.3,247.3 402.6,236.3 419.2,225.8 430.0,220.6 442.3,213.8 454.5,207.1 466.8,201.6 479.1,196.0 490.0,194.5 509.2,188.9 521.9,185.7 537.9,180.9 555.4,177.3 569.8,176.9 580.0,177.7 600.0,178.0 612.3,179.8 624.5,181.7 636.8,184.1 640.0,183.6 656.0,188.0 672.0,192.4 687.9,195.2 692.7,196.0 711.8,196.4 730.0,198.8 735.0,199.5 750.0,203.1 759.7,205.1 771.7,206.0 783.7,207.4 793.3,208.1" fill="none" stroke="#ffffff" stroke-width="4" stroke-linejoin="round"/>
<polyline points="2.9,439.1 11.8,438.4 22.1,436.6 36.8,433.2 51.5,430.0 66.2,426.2 81.0,420.6 95.7,414.5 109.8,409.4 119.6,403.8 131.9,399.5 144.2,395.8 157.7,391.6 166.3,388.5 173.6,383.6 185.9,377.4 195.7,370.7 205.6,365.2 220.3,356.0 230.1,351.0 239.9,345.5 250.0,340.0 264.5,329.4 278.0,321.4 290.3,315.9 297.7,313.5 305.0,307.3 312.4,302.4 320.0,296.9 325.3,293.0 339.6,281.4 351.7,272.0 359.5,268.7 368.3,263.2 375.0,258.4 389.3,247.3 402.6,236.3 419.2,225.8 430.0,220.6 442.3,213.8 454.5,207.1 466.8,201.6 479.1,196.0 490.0,194.5 509.2,188.9 521.9,185.7 537.9,180.9 555.4,177.3 569.8,176.9 580.0,177.7 600.0,178.0 612.3,179.8 624.5,181.7 636.8,184.1 640.0,183.6 656.0,188.0 672.0,192.4 687.9,195.2 692.7,196.0 711.8,196.4 730.0,198.8 735.0,199.5 750.0,203.1 759.7,205.1 771.7,206.0 783.7,207.4 793.3,208.1" fill="none" stroke="#006400" stroke-width="2.2" stroke-linejoin="round"/>
<polygon points="2.9,364.0 8.8,365.5 14.7,369.2 18.4,366.2 23.6,358.1 29.4,350.8 36.8,344.1 42.7,343.4 48.6,346.3 55.9,350.0 60.0,348.4 65.5,341.9 70.1,338.2 73.8,333.6 78.4,331.8 83.0,330.9 87.6,329.5 92.2,326.3 95.9,324.9 98.6,326.3 101.4,329.0 105.1,326.3 109.7,326.7 113.4,325.4 117.0,321.7 122.6,321.2 128.1,321.7 133.6,322.1 137.3,321.2 141.0,318.9 145.6,316.2 148.3,313.4 151.1,304.2 152.9,295.0 157.2,289.4 160.4,283.0 163.6,271.8 166.8,252.7 168.4,239.9 173.2,236.7 178.0,233.5 182.0,227.1 184.4,217.6 186.7,208.0 189.1,200.0 192.7,182.0 196.0,178.7 201.6,176.5 207.1,170.9 210.4,162.1 213.7,157.1 217.0,159.3 221.5,164.3 227.0,169.3 231.4,169.3 237.4,169.0 242.3,165.3 246.0,161.7 252.1,158.3 258.2,159.6 263.1,159.2 269.3,160.8 273.0,165.3 276.6,167.2 280.3,164.7 285.2,161.3 290.1,164.1 295.1,168.4 298.7,169.6 301.2,166.0 303.6,158.6 305.5,153.7 306.7,150.0 310.3,138.0 315.0,118.0 320.0,91.0 325.0,70.0 329.0,57.0 335.0,50.0 342.0,44.4 348.8,51.3 358.0,50.0 365.5,49.3 372.3,60.0 375.4,67.4 379.1,77.2 384.0,74.7 387.7,72.3 392.6,69.8 397.5,65.5 401.2,65.5 404.9,71.0 408.6,74.1 412.2,69.8 415.9,66.1 423.3,64.9 428.2,67.4 431.9,74.7 436.8,85.8 438.1,90.0 442.1,102.0 446.9,107.2 450.1,106.8 453.3,104.0 457.3,100.4 461.3,101.2 464.5,98.4 469.3,98.1 473.3,101.6 476.4,110.0 479.6,117.5 482.8,125.9 485.2,137.9 489.2,148.3 490.0,148.2 498.0,156.2 501.2,167.4 505.2,177.0 509.2,187.3 512.3,200.1 514.7,204.5 519.5,202.5 522.7,196.1 525.9,192.9 529.1,191.3 531.5,191.7 537.1,196.5 541.9,192.9 545.1,190.1 550.6,188.5 555.4,188.5 559.4,193.7 560.0,195.2 564.8,200.7 568.0,211.9 570.4,224.7 574.4,231.1 578.4,239.1 580.8,245.0 586.8,249.0 590.5,248.4 595.4,243.5 601.5,234.9 606.4,233.1 612.3,233.2 620.9,235.7 624.5,228.9 628.2,227.1 633.1,227.7 638.1,230.8 644.2,233.8 649.1,232.6 655.2,229.5 661.4,227.1 663.8,233.8 666.3,242.4 668.7,249.8 672.4,251.6 676.1,252.2 679.8,248.6 683.0,245.0 688.7,231.1 692.7,226.3 695.9,217.5 697.9,209.5 699.1,207.9 703.9,202.3 706.3,198.7 708.7,199.6 712.6,195.2 716.6,192.8 719.0,188.0 720.6,184.8 724.6,180.4 726.4,176.1 730.1,170.0 735.6,169.0 740.8,168.2 745.9,167.3 749.4,162.2 754.5,157.0 759.7,151.9 764.8,146.7 767.4,138.1 770.0,132.1 773.4,131.2 778.6,132.1 783.7,134.7 788.9,136.4 790.6,124.4 792.3,107.2 793.5,105.5 793.5,194.7 792.3,193.1 790.6,186.2 788.0,182.8 785.4,183.6 780.3,191.4 775.1,196.5 770.0,203.4 764.8,199.1 758.0,205.1 750.0,217.3 746.1,218.5 742.4,221.6 737.5,228.9 733.8,237.5 732.0,246.1 727.7,253.5 722.7,260.8 717.8,270.0 712.2,277.6 708.7,281.1 705.3,293.1 701.9,310.3 699.3,320.6 695.0,322.3 689.8,324.9 684.7,323.2 679.5,320.6 674.4,319.7 667.5,320.6 663.2,323.2 659.8,312.2 654.4,301.4 646.3,296.0 639.5,290.6 633.4,284.5 630.0,284.0 622.4,285.2 620.0,287.3 616.0,291.7 610.5,298.4 605.0,301.7 597.3,301.7 591.7,297.8 586.2,297.3 578.5,299.0 573.0,297.3 567.5,294.0 563.0,293.4 559.7,285.1 555.3,278.5 548.7,267.5 542.1,255.3 537.7,245.9 531.0,254.8 520.0,254.2 519.3,254.5 513.1,255.2 510.7,260.7 505.8,261.9 502.1,263.1 498.4,267.4 493.5,259.5 489.8,250.9 484.9,241.0 479.1,231.0 474.2,216.3 469.3,207.7 464.4,196.6 459.5,188.0 454.5,174.5 449.6,162.3 446.0,154.9 442.3,154.9 439.2,158.2 434.9,162.9 430.0,165.3 427.0,163.0 423.3,157.0 420.0,146.9 417.8,139.7 414.6,130.1 411.4,120.5 409.0,118.1 406.6,122.1 403.4,130.1 400.2,138.5 392.3,144.5 389.1,144.5 382.7,144.9 377.9,145.7 373.9,152.5 369.1,154.5 365.1,150.9 362.7,144.5 361.1,139.7 357.1,135.3 353.1,134.3 350.0,136.5 346.8,144.5 343.6,158.8 339.8,175.9 336.4,194.7 331.7,214.8 325.9,229.2 320.6,240.5 316.6,237.5 310.8,229.2 304.9,221.1 299.2,217.0 294.5,215.9 287.5,216.4 284.6,210.6 281.7,203.5 279.3,196.6 277.0,196.0 273.2,200.7 271.7,207.4 269.5,211.8 263.6,216.2 256.2,216.9 251.1,217.5 248.9,216.2 246.7,217.7 243.7,219.1 238.6,220.6 236.4,223.6 232.7,223.6 229.0,221.7 226.0,221.4 222.4,228.7 220.2,234.6 217.9,245.7 215.7,258.9 214.7,263.8 211.5,275.0 208.3,284.6 203.5,287.0 200.3,298.9 197.1,310.1 192.3,321.3 187.5,330.0 181.0,340.0 174.9,354.7 170.0,367.0 167.5,370.7 163.8,364.5 160.0,357.6 155.7,356.2 151.1,354.8 148.3,351.1 142.8,350.2 136.4,349.7 132.7,349.7 128.1,352.0 122.6,354.8 115.2,356.6 107.8,357.6 102.3,358.5 99.6,370.0 97.2,372.1 91.3,379.5 85.4,383.9 78.0,386.8 70.7,386.8 64.8,385.4 58.9,383.1 53.0,382.4 50.1,385.4 44.2,395.7 38.3,408.9 32.4,419.2 26.5,431.0 22.1,436.6 14.7,434.7 8.8,436.1 2.9,436.1" fill="#bbbbbb" fill-opacity="0.5"/>
<polyline points="2.9,364.0 8.8,365.5 14.7,369.2 18.4,366.2 23.6,358.1 29.4,350.8 36.8,344.1 42.7,343.4 48.6,346.3 55.9,350.0 60.0,348.4 65.5,341.9 70.1,338.2 73.8,333.6 78.4,331.8 83.0,330.9 87.6,329.5 92.2,326.3 95.9,324.9 98.6,326.3 101.4,329.0 105.1,326.3 109.7,326.7 113.4,325.4 117.0,321.7 122.6,321.2 128.1,321.7 133.6,322.1 137.3,321.2 141.0,318.9 145.6,316.2 148.3,313.4 151.1,304.2 152.9,295.0 157.2,289.4 160.4,283.0 163.6,271.8 166.8,252.7 168.4,239.9 173.2,236.7 178.0,233.5 182.0,227.1 184.4,217.6 186.7,208.0 189.1,200.0 192.7,182.0 196.0,178.7 201.6,176.5 207.1,170.9 210.4,162.1 213.7,157.1 217.0,159.3 221.5,164.3 227.0,169.3 231.4,169.3 237.4,169.0 242.3,165.3 246.0,161.7 252.1,158.3 258.2,159.6 263.1,159.2 269.3,160.8 273.0,165.3 276.6,167.2 280.3,164.7 285.2,161.3 290.1,164.1 295.1,168.4 298.7,169.6 301.2,166.0 303.6,158.6 305.5,153.7 306.7,150.0 310.3,138.0 315.0,118.0 320.0,91.0 325.0,70.0 329.0,57.0 335.0,50.0 342.0,44.4 348.8,51.3 358.0,50.0 365.5,49.3 372.3,60.0 375.4,67.4 379.1,77.2 384.0,74.7 387.7,72.3 392.6,69.8 397.5,65.5 401.2,65.5 404.9,71.0 408.6,74.1 412.2,69.8 415.9,66.1 423.3,64.9 428.2,67.4 431.9,74.7 436.8,85.8 438.1,90.0 442.1,102.0 446.9,107.2 450.1,106.8 453.3,104.0 457.3,100.4 461.3,101.2 464.5,98.4 469.3,98.1 473.3,101.6 476.4,110.0 479.6,117.5 482.8,125.9 485.2,137.9 489.2,148.3 490.0,148.2 498.0,156.2 501.2,167.4 505.2,177.0 509.2,187.3 512.3,200.1 514.7,204.5 519.5,202.5 522.7,196.1 525.9,192.9 529.1,191.3 531.5,191.7 537.1,196.5 541.9,192.9 545.1,190.1 550.6,188.5 555.4,188.5 559.4,193.7 560.0,195.2 564.8,200.7 568.0,211.9 570.4,224.7 574.4,231.1 578.4,239.1 580.8,245.0 586.8,249.0 590.5,248.4 595.4,243.5 601.5,234.9 606.4,233.1 612.3,233.2 620.9,235.7 624.5,228.9 628.2,227.1 633.1,227.7 638.1,230.8 644.2,233.8 649.1,232.6 655.2,229.5 661.4,227.1 663.8,233.8 666.3,242.4 668.7,249.8 672.4,251.6 676.1,252.2 679.8,248.6 683.0,245.0 688.7,231.1 692.7,226.3 695.9,217.5 697.9,209.5 699.1,207.9 703.9,202.3 706.3,198.7 708.7,199.6 712.6,195.2 716.6,192.8 719.0,188.0 720.6,184.8 724.6,180.4 726.4,176.1 730.1,170.0 735.6,169.0 740.8,168.2 745.9,167.3 749.4,162.2 754.5,157.0 759.7,151.9 764.8,146.7 767.4,138.1 770.0,132.1 773.4,131.2 778.6,132.1 783.7,134.7 788.9,136.4 790.6,124.4 792.3,107.2 793.5,105.5" fill="none" stroke="#7d7d00" stroke-width="1.05"/>
<polyline points="2.9,436.1 8.8,436.1 14.7,434.7 22.1,436.6 26.5,431.0 32.4,419.2 38.3,408.9 44.2,395.7 50.1,385.4 53.0,382.4 58.9,383.1 64.8,385.4 70.7,386.8 78.0,386.8 85.4,383.9 91.3,379.5 97.2,372.1 99.6,370.0 102.3,358.5 107.8,357.6 115.2,356.6 122.6,354.8 128.1,352.0 132.7,349.7 136.4,349.7 142.8,350.2 148.3,351.1 151.1,354.8 155.7,356.2 160.0,357.6 163.8,364.5 167.5,370.7 170.0,367.0 174.9,354.7 181.0,340.0 187.5,330.0 192.3,321.3 197.1,310.1 200.3,298.9 203.5,287.0 208.3,284.6 211.5,275.0 214.7,263.8 215.7,258.9 217.9,245.7 220.2,234.6 222.4,228.7 226.0,221.4 229.0,221.7 232.7,223.6 236.4,223.6 238.6,220.6 243.7,219.1 246.7,217.7 248.9,216.2 251.1,217.5 256.2,216.9 263.6,216.2 269.5,211.8 271.7,207.4 273.2,200.7 277.0,196.0 279.3,196.6 281.7,203.5 284.6,210.6 287.5,216.4 294.5,215.9 299.2,217.0 304.9,221.1 310.8,229.2 316.6,237.5 320.6,240.5 325.9,229.2 331.7,214.8 336.4,194.7 339.8,175.9 343.6,158.8 346.8,144.5 350.0,136.5 353.1,134.3 357.1,135.3 361.1,139.7 362.7,144.5 365.1,150.9 369.1,154.5 373.9,152.5 377.9,145.7 382.7,144.9 389.1,144.5 392.3,144.5 400.2,138.5 403.4,130.1 406.6,122.1 409.0,118.1 411.4,120.5 414.6,130.1 417.8,139.7 420.0,146.9 423.3,157.0 427.0,163.0 430.0,165.3 434.9,162.9 439.2,158.2 442.3,154.9 446.0,154.9 449.6,162.3 454.5,174.5 459.5,188.0 464.4,196.6 469.3,207.7 474.2,216.3 479.1,231.0 484.9,241.0 489.8,250.9 493.5,259.5 498.4,267.4 502.1,263.1 505.8,261.9 510.7,260.7 513.1,255.2 519.3,254.5 520.0,254.2 531.0,254.8 537.7,245.9 542.1,255.3 548.7,267.5 555.3,278.5 559.7,285.1 563.0,293.4 567.5,294.0 573.0,297.3 578.5,299.0 586.2,297.3 591.7,297.8 597.3,301.7 605.0,301.7 610.5,298.4 616.0,291.7 620.0,287.3 622.4,285.2 630.0,284.0 633.4,284.5 639.5,290.6 646.3,296.0 654.4,301.4 659.8,312.2 663.2,323.2 667.5,320.6 674.4,319.7 679.5,320.6 684.7,323.2 689.8,324.9 695.0,322.3 699.3,320.6 701.9,310.3 705.3,293.1 708.7,281.1 712.2,277.6 717.8,270.0 722.7,260.8 727.7,253.5 732.0,246.1 733.8,237.5 737.5,228.9 742.4,221.6 746.1,218.5 750.0,217.3 758.0,205.1 764.8,199.1 770.0,203.4 775.1,196.5 780.3,191.4 785.4,183.6 788.0,182.8 790.6,186.2 792.3,193.1 793.5,194.7" fill="none" stroke="#7d7d00" stroke-width="1.05"/>
<polyline points="2.9,396.4 11.8,393.5 20.6,389.8 29.4,386.1 38.3,383.1 48.6,381.7 58.9,382.1 67.7,380.2 76.5,377.3 85.4,373.6 90.4,370.0 98.6,364.9 106.0,359.4 115.2,355.7 124.4,352.5 133.6,347.9 142.8,344.2 152.0,339.2 160.0,335.0 165.2,330.0 174.8,321.3 184.4,311.7 193.9,298.9 203.5,286.2 209.9,276.6 215.4,268.0 220.9,259.6 224.6,256.0 228.3,250.4 231.2,247.9 233.4,244.6 237.1,239.8 241.5,233.9 245.2,228.7 248.1,224.3 251.8,218.4 256.2,214.0 262.1,208.8 266.5,203.7 272.4,200.7 276.6,196.0 281.6,193.0 291.4,192.3 298.7,191.1 308.6,185.0 318.4,180.1 325.7,173.3 331.9,166.0 336.4,159.2 340.4,154.5 346.0,149.3 352.3,145.3 356.3,143.3 361.1,142.1 365.1,140.1 369.1,138.1 373.9,133.3 379.5,126.9 385.1,122.1 389.1,117.7 392.3,115.0 396.2,110.2 400.2,106.2 404.2,102.6 409.8,102.2 425.4,105.2 433.4,108.8 441.3,113.1 449.3,116.7 457.3,121.5 464.5,124.3 470.8,127.5 477.2,134.7 482.8,141.9 488.4,148.3 490.0,151.0 496.4,159.4 502.0,168.1 507.6,175.3 514.0,183.3 520.3,186.5 527.5,191.3 531.5,193.7 536.3,199.3 541.1,205.7 544.3,210.0 550.3,216.3 557.7,222.4 565.0,228.6 573.3,238.6 580.7,244.7 588.0,247.2 595.0,246.7 608.5,251.4 622.0,256.1 635.5,260.9 649.0,265.0 662.5,270.3 667.9,272.4 676.0,270.3 680.0,269.0 693.3,267.0 704.3,263.3 716.6,257.1 728.9,248.6 737.5,241.2 750.0,232.6 759.7,217.1 770.0,203.4 780.3,193.1 787.2,184.5 793.3,178.5" fill="none" stroke="#ffffff" stroke-opacity="0.5" stroke-width="2.6"/>
<polyline points="2.9,396.4 11.8,393.5 20.6,389.8 29.4,386.1 38.3,383.1 48.6,381.7 58.9,382.1 67.7,380.2 76.5,377.3 85.4,373.6 90.4,370.0 98.6,364.9 106.0,359.4 115.2,355.7 124.4,352.5 133.6,347.9 142.8,344.2 152.0,339.2 160.0,335.0 165.2,330.0 174.8,321.3 184.4,311.7 193.9,298.9 203.5,286.2 209.9,276.6 215.4,268.0 220.9,259.6 224.6,256.0 228.3,250.4 231.2,247.9 233.4,244.6 237.1,239.8 241.5,233.9 245.2,228.7 248.1,224.3 251.8,218.4 256.2,214.0 262.1,208.8 266.5,203.7 272.4,200.7 276.6,196.0 281.6,193.0 291.4,192.3 298.7,191.1 308.6,185.0 318.4,180.1 325.7,173.3 331.9,166.0 336.4,159.2 340.4,154.5 346.0,149.3 352.3,145.3 356.3,143.3 361.1,142.1 365.1,140.1 369.1,138.1 373.9,133.3 379.5,126.9 385.1,122.1 389.1,117.7 392.3,115.0 396.2,110.2 400.2,106.2 404.2,102.6 409.8,102.2 425.4,105.2 433.4,108.8 441.3,113.1 449.3,116.7 457.3,121.5 464.5,124.3 470.8,127.5 477.2,134.7 482.8,141.9 488.4,148.3 490.0,151.0 496.4,159.4 502.0,168.1 507.6,175.3 514.0,183.3 520.3,186.5 527.5,191.3 531.5,193.7 536.3,199.3 541.1,205.7 544.3,210.0 550.3,216.3 557.7,222.4 565.0,228.6 573.3,238.6 580.7,244.7 588.0,247.2 595.0,246.7 608.5,251.4 622.0,256.1 635.5,260.9 649.0,265.0 662.5,270.3 667.9,272.4 676.0,270.3 680.0,269.0 693.3,267.0 704.3,263.3 716.6,257.1 728.9,248.6 737.5,241.2 750.0,232.6 759.7,217.1 770.0,203.4 780.3,193.1 787.2,184.5 793.3,178.5" fill="none" stroke="#ad7446" stroke-width="1"/>
<mask id="cmask" maskUnits="userSpaceOnUse" x="0" y="0" width="1222" height="815"><rect x="0" y="0" width="1222" height="815" fill="#fff"/><path d="M3.5 396V406M7.5 392V402M9.5 385V395M11.5 384V395M13.5 378V388M15.5 371V382M17.5 365V376M18.5 367V378M20.5 368V380M22.5 364V374M23.5 366V376M24.5 362V379M26.5 363V382M28.5 360V372M29.5 363V366M31.5 363V372M33.5 366V376M35.5 368V379M36.5 353V376M39.5 339V359M40.5 344V351M42.5 352V369M44.5 359V379M46.5 370V379M49.5 362V374M51.5 363V370M52.5 360V368M55.5 363V369M56.5 366V376M58.5 374V384M60.5 379V390M62.5 355V385M64.5 348V361M67.5 343V350M69.5 341V351M71.5 342V350M73.5 344V354M76.5 342V352M78.5 341V355M79.5 344V354M82.5 348V357M84.5 340V353M85.5 343V352M88.5 348V356M89.5 350V363M91.5 348V355M93.5 334V351M95.5 331V341M98.5 331V340M100.5 332V343M102.5 326V336M104.5 323V328M106.5 323V334M108.5 328V352M110.5 339V351M112.5 334V348M115.5 331V342M117.5 328V334M119.5 329V338M121.5 332V352M123.5 331V340M125.5 325V341M127.5 332V346M128.5 341V363M131.5 340V350M133.5 336V346M135.5 334V343M137.5 323V336M140.5 319V328M142.5 323V329M144.5 319V331M146.5 308V323M147.5 312V326M149.5 304V322M151.5 283V303M153.5 279V297M156.5 293V301M158.5 294V307M161.5 275V300M164.5 253V284M166.5 219V274M168.5 228V258M170.5 270V293M172.5 260V282M174.5 268V283M176.5 264V283M178.5 247V266M180.5 244V260M182.5 228V258M184.5 224V236M187.5 205V232M188.5 196V217M190.5 208V215M193.5 182V202M194.5 190V205M197.5 201V216M199.5 198V216M202.5 200V210M203.5 185V212M205.5 191V211M208.5 202V216M209.5 184V206M212.5 172V186M214.5 163V181M215.5 169V178M218.5 175V199M220.5 178V199M222.5 182V206M223.5 182V205M225.5 195V211M228.5 199V203M230.5 201V216M232.5 215V230M234.5 198V222M236.5 194V202M238.5 182V201M240.5 175V192M242.5 175V188M244.5 164V176M246.5 170V176M248.5 169V185M251.5 171V183M252.5 165V175M254.5 169V183M256.5 170V185M258.5 181V191M260.5 186V196M263.5 172V190M266.5 174V192M267.5 185V195M269.5 184V202M272.5 175V197M274.5 172V194M275.5 178V195M278.5 176V194M280.5 174V193M282.5 190V208M283.5 200V212M284.5 206V218M285.5 210V223M288.5 208V222M289.5 204V215M291.5 193V208M293.5 196V206M295.5 195V206M297.5 179V202M299.5 173V183M300.5 168V180M302.5 158V173M304.5 159V166M306.5 146V162M307.5 144V160M308.5 133V146M310.5 130V139M312.5 124V134M314.5 109V125M316.5 113V123M319.5 104V121M320.5 100V111M322.5 98V109M324.5 95V102M327.5 74V96M328.5 58V75M330.5 57V77M332.5 57V82M334.5 58V88M336.5 57V82M337.5 58V75M340.5 63V88M341.5 84V99M343.5 90V117M345.5 100V121M346.5 109V118M347.5 88V110M350.5 78V104M351.5 88V114M354.5 107V127M355.5 124V138M357.5 110V125M359.5 113V125M361.5 114V130M363.5 120V142M365.5 126V144M366.5 128V144M368.5 121V144M370.5 110V120M373.5 92V112M374.5 90V110M376.5 90V102M378.5 81V93M380.5 80V98M382.5 77V105M384.5 91V112M386.5 85V98M389.5 77V96M391.5 85V94M392.5 79V96M394.5 86V92M396.5 86V101M398.5 86V93M400.5 74V93M402.5 87V98M403.5 86V103M405.5 100V120M407.5 112V119M409.5 110V119M410.5 116V129M412.5 119V130M413.5 127V141M415.5 130V137M417.5 128V138M419.5 133V146M422.5 142V158M423.5 151V160M426.5 141V155M427.5 131V146M429.5 126V138M431.5 122V137M432.5 118V135M434.5 110V142M436.5 107V122M439.5 113V123M440.5 106V130M443.5 116V137M445.5 112V127M446.5 113V147M448.5 147V165M450.5 152V174M452.5 157V168M454.5 169V184M456.5 178V190M458.5 170V193M460.5 168V176M462.5 151V171M464.5 145V185M466.5 170V191M467.5 171V193M470.5 182V199M471.5 172V194M474.5 174V203M476.5 199V215M478.5 204V218M480.5 205V217M482.5 208V235M483.5 240V247M485.5 221V242M488.5 220V241M489.5 221V235M491.5 228V242M493.5 229V258M495.5 244V257M497.5 243V253M499.5 229V242M500.5 221V236M502.5 217V228M505.5 214V226M506.5 213V227M508.5 222V244M510.5 217V242M513.5 214V228M514.5 214V221M516.5 204V219M518.5 200V212M520.5 201V207M522.5 192V221M523.5 199V227M525.5 197V210M527.5 194V207M528.5 192V201M530.5 196V208M531.5 204V235M533.5 225V239M536.5 230V242M537.5 231V240M539.5 234V251M541.5 239V257M544.5 240V264M545.5 255V268M547.5 252V264M550.5 244V264M552.5 249V263M554.5 254V269M556.5 256V271M558.5 254V271M559.5 259V272M561.5 266V281M563.5 269V286M564.5 271V285M566.5 274V288M568.5 281V291M570.5 274V288M572.5 277V288M574.5 284V295M576.5 276V290M578.5 280V291M581.5 279V292M583.5 266V286M585.5 256V272M587.5 255V274M590.5 255V270M591.5 244V254M593.5 243V253M595.5 238V249M597.5 241V253M600.5 241V249M602.5 243V254M604.5 242V260M606.5 260V285M607.5 269V288M610.5 269V280M612.5 272V281M614.5 273V281M616.5 261V272M619.5 251V264M621.5 254V273M623.5 227V247M624.5 220V231M626.5 228V250M628.5 242V251M630.5 254V264M632.5 258V272M634.5 253V262M637.5 249V264M638.5 265V273M641.5 269V278M642.5 272V285M645.5 278V288M647.5 277V288M649.5 288V297M651.5 285V293M653.5 285V295M655.5 291V299M657.5 296V305M658.5 299V310M660.5 303V315M662.5 310V322M664.5 299V315M665.5 296V310M667.5 295V301M669.5 286V297M671.5 251V285M673.5 251V269M675.5 265V272M677.5 257V274M679.5 253V266M681.5 254V269M683.5 256V264M685.5 249V257M687.5 243V256M689.5 243V251M691.5 245V260M694.5 237V265M695.5 227V242M697.5 218V228M698.5 208V223M700.5 214V222M703.5 212V223M704.5 212V220M707.5 204V218M709.5 204V214M711.5 207V221M712.5 213V218M714.5 212V220M716.5 214V223M718.5 200V214M720.5 188V198M721.5 191V200M723.5 191V198M725.5 181V201M727.5 177V184M729.5 177V181M731.5 184V194M733.5 174V191M735.5 173V194M738.5 172V193M740.5 179V187M742.5 181V200M743.5 184V196M745.5 177V194M747.5 165V182M749.5 164V172M750.5 160V169M752.5 163V178M754.5 154V176M756.5 148V160M758.5 150V164M760.5 153V165M762.5 158V170M764.5 155V170M766.5 141V159M767.5 128V145M769.5 127V134M771.5 127V142M773.5 138V158M775.5 155V166M776.5 159V181M778.5 167V175M780.5 167V182M781.5 168V177M783.5 165V177M784.5 154V171M786.5 148V167M788.5 146V162M789.5 128V157M791.5 85V129M793.5 51V103" stroke="#000" stroke-width="1" fill="none" shape-rendering="crispEdges"/><path d="M2.5 398.5h2v5h-2zM6.5 394.5h2v5h-2zM8.5 387.5h2v5h-2zM12.5 379.5h2v7h-2zM14.5 373.5h2v6h-2zM16.5 367.5h2v7h-2zM17.5 369.5h2v6h-2zM19.5 370.5h2v7h-2zM23.5 365.5h2v10h-2zM25.5 366.5h2v12h-2zM27.5 362.5h2v7h-2zM30.5 365.5h2v4h-2zM34.5 369.5h2v7h-2zM35.5 357.5h2v14h-2zM38.5 343.5h2v11h-2zM43.5 362.5h2v12h-2zM48.5 364.5h2v7h-2zM50.5 364.5h2v4h-2zM51.5 362.5h2v3h-2zM59.5 380.5h2v7h-2zM61.5 360.5h2v19h-2zM63.5 351.5h2v7h-2zM66.5 344.5h2v3h-2zM68.5 342.5h2v6h-2zM70.5 343.5h2v4h-2zM75.5 344.5h2v5h-2zM78.5 346.5h2v5h-2zM83.5 342.5h2v8h-2zM88.5 352.5h2v8h-2zM90.5 350.5h2v3h-2zM92.5 337.5h2v10h-2zM94.5 332.5h2v6h-2zM99.5 334.5h2v6h-2zM101.5 328.5h2v6h-2zM103.5 324.5h2v2h-2zM109.5 341.5h2v7h-2zM111.5 337.5h2v8h-2zM114.5 333.5h2v6h-2zM116.5 329.5h2v3h-2zM118.5 330.5h2v5h-2zM120.5 335.5h2v12h-2zM122.5 332.5h2v5h-2zM124.5 328.5h2v9h-2zM127.5 345.5h2v13h-2zM130.5 341.5h2v6h-2zM132.5 338.5h2v6h-2zM134.5 336.5h2v5h-2zM136.5 325.5h2v8h-2zM143.5 321.5h2v7h-2zM145.5 310.5h2v9h-2zM146.5 315.5h2v8h-2zM148.5 307.5h2v11h-2zM150.5 286.5h2v13h-2zM157.5 296.5h2v8h-2zM160.5 279.5h2v16h-2zM163.5 259.5h2v19h-2zM165.5 228.5h2v35h-2zM167.5 233.5h2v18h-2zM171.5 264.5h2v13h-2zM175.5 267.5h2v12h-2zM177.5 250.5h2v11h-2zM181.5 233.5h2v18h-2zM186.5 210.5h2v16h-2zM187.5 200.5h2v13h-2zM192.5 185.5h2v13h-2zM198.5 201.5h2v11h-2zM201.5 201.5h2v6h-2zM202.5 190.5h2v16h-2zM207.5 204.5h2v9h-2zM208.5 188.5h2v14h-2zM211.5 174.5h2v9h-2zM213.5 166.5h2v11h-2zM219.5 181.5h2v13h-2zM221.5 186.5h2v15h-2zM224.5 198.5h2v9h-2zM231.5 218.5h2v8h-2zM233.5 202.5h2v15h-2zM235.5 195.5h2v5h-2zM237.5 185.5h2v12h-2zM239.5 178.5h2v10h-2zM241.5 177.5h2v7h-2zM243.5 166.5h2v7h-2zM250.5 173.5h2v7h-2zM251.5 167.5h2v6h-2zM259.5 188.5h2v6h-2zM262.5 176.5h2v10h-2zM266.5 187.5h2v6h-2zM271.5 179.5h2v14h-2zM274.5 181.5h2v10h-2zM277.5 179.5h2v11h-2zM287.5 211.5h2v7h-2zM288.5 206.5h2v6h-2zM290.5 196.5h2v9h-2zM292.5 198.5h2v6h-2zM296.5 183.5h2v14h-2zM299.5 170.5h2v7h-2zM301.5 160.5h2v9h-2zM303.5 160.5h2v4h-2zM305.5 149.5h2v9h-2zM306.5 147.5h2v9h-2zM307.5 135.5h2v8h-2zM309.5 131.5h2v5h-2zM311.5 125.5h2v6h-2zM313.5 111.5h2v10h-2zM318.5 107.5h2v10h-2zM319.5 102.5h2v6h-2zM321.5 100.5h2v6h-2zM323.5 96.5h2v3h-2zM326.5 77.5h2v14h-2zM327.5 61.5h2v10h-2zM329.5 60.5h2v13h-2zM331.5 61.5h2v16h-2zM335.5 61.5h2v16h-2zM336.5 61.5h2v10h-2zM344.5 104.5h2v13h-2zM345.5 110.5h2v5h-2zM346.5 91.5h2v14h-2zM354.5 126.5h2v8h-2zM356.5 112.5h2v9h-2zM358.5 115.5h2v7h-2zM364.5 129.5h2v11h-2zM367.5 125.5h2v14h-2zM369.5 112.5h2v5h-2zM372.5 95.5h2v12h-2zM375.5 92.5h2v7h-2zM377.5 83.5h2v7h-2zM379.5 83.5h2v11h-2zM385.5 87.5h2v7h-2zM390.5 86.5h2v6h-2zM391.5 82.5h2v11h-2zM397.5 87.5h2v4h-2zM401.5 89.5h2v6h-2zM406.5 113.5h2v3h-2zM409.5 118.5h2v8h-2zM414.5 131.5h2v4h-2zM416.5 130.5h2v6h-2zM422.5 153.5h2v5h-2zM425.5 143.5h2v8h-2zM426.5 134.5h2v9h-2zM428.5 128.5h2v7h-2zM430.5 125.5h2v9h-2zM431.5 120.5h2v11h-2zM433.5 116.5h2v20h-2zM438.5 115.5h2v6h-2zM442.5 120.5h2v13h-2zM449.5 156.5h2v14h-2zM451.5 159.5h2v6h-2zM455.5 180.5h2v7h-2zM457.5 174.5h2v14h-2zM459.5 169.5h2v4h-2zM461.5 155.5h2v12h-2zM470.5 176.5h2v14h-2zM479.5 207.5h2v7h-2zM482.5 241.5h2v4h-2zM484.5 225.5h2v13h-2zM487.5 224.5h2v12h-2zM490.5 231.5h2v8h-2zM494.5 247.5h2v7h-2zM496.5 245.5h2v5h-2zM498.5 232.5h2v7h-2zM499.5 224.5h2v9h-2zM501.5 219.5h2v6h-2zM504.5 216.5h2v7h-2zM512.5 217.5h2v8h-2zM513.5 215.5h2v4h-2zM515.5 206.5h2v9h-2zM517.5 202.5h2v7h-2zM519.5 202.5h2v3h-2zM522.5 204.5h2v17h-2zM524.5 199.5h2v7h-2zM526.5 197.5h2v7h-2zM532.5 227.5h2v9h-2zM536.5 232.5h2v6h-2zM540.5 242.5h2v11h-2zM544.5 257.5h2v8h-2zM546.5 254.5h2v7h-2zM549.5 248.5h2v12h-2zM553.5 257.5h2v8h-2zM555.5 259.5h2v9h-2zM557.5 257.5h2v10h-2zM563.5 274.5h2v8h-2zM567.5 283.5h2v5h-2zM571.5 279.5h2v7h-2zM575.5 278.5h2v8h-2zM577.5 282.5h2v6h-2zM580.5 281.5h2v8h-2zM582.5 270.5h2v12h-2zM584.5 259.5h2v10h-2zM589.5 258.5h2v9h-2zM590.5 246.5h2v5h-2zM592.5 245.5h2v5h-2zM594.5 240.5h2v6h-2zM596.5 243.5h2v7h-2zM601.5 245.5h2v6h-2zM606.5 272.5h2v12h-2zM613.5 274.5h2v5h-2zM615.5 263.5h2v6h-2zM618.5 253.5h2v8h-2zM622.5 231.5h2v12h-2zM623.5 222.5h2v6h-2zM631.5 260.5h2v8h-2zM633.5 254.5h2v6h-2zM640.5 271.5h2v5h-2zM644.5 280.5h2v5h-2zM648.5 289.5h2v6h-2zM650.5 287.5h2v4h-2zM652.5 287.5h2v5h-2zM659.5 305.5h2v7h-2zM661.5 312.5h2v7h-2zM663.5 302.5h2v9h-2zM664.5 298.5h2v8h-2zM668.5 288.5h2v6h-2zM670.5 257.5h2v21h-2zM676.5 260.5h2v10h-2zM678.5 255.5h2v8h-2zM680.5 257.5h2v8h-2zM684.5 250.5h2v4h-2zM686.5 245.5h2v7h-2zM693.5 241.5h2v18h-2zM694.5 230.5h2v8h-2zM696.5 220.5h2v6h-2zM697.5 211.5h2v9h-2zM702.5 213.5h2v7h-2zM706.5 207.5h2v8h-2zM710.5 209.5h2v9h-2zM713.5 213.5h2v4h-2zM715.5 215.5h2v6h-2zM717.5 202.5h2v9h-2zM719.5 190.5h2v5h-2zM724.5 185.5h2v12h-2zM726.5 178.5h2v3h-2zM728.5 177.5h2v3h-2zM732.5 177.5h2v10h-2zM739.5 180.5h2v5h-2zM742.5 186.5h2v7h-2zM744.5 180.5h2v10h-2zM746.5 168.5h2v10h-2zM748.5 165.5h2v5h-2zM749.5 162.5h2v4h-2zM753.5 158.5h2v13h-2zM755.5 150.5h2v7h-2zM763.5 158.5h2v8h-2zM765.5 144.5h2v11h-2zM766.5 131.5h2v10h-2zM768.5 128.5h2v3h-2zM777.5 168.5h2v4h-2zM780.5 169.5h2v5h-2zM782.5 167.5h2v7h-2zM783.5 157.5h2v10h-2zM785.5 151.5h2v12h-2zM788.5 133.5h2v18h-2zM790.5 89.5h2v34h-2zM10.5 386.5h2v6h-2zM21.5 366.5h2v5h-2zM22.5 368.5h2v6h-2zM28.5 364.5h2v1h-2zM32.5 368.5h2v6h-2zM39.5 346.5h2v3h-2zM41.5 354.5h2v11h-2zM45.5 371.5h2v5h-2zM54.5 364.5h2v3h-2zM55.5 368.5h2v6h-2zM57.5 376.5h2v5h-2zM72.5 346.5h2v5h-2zM77.5 343.5h2v9h-2zM81.5 350.5h2v5h-2zM84.5 344.5h2v5h-2zM87.5 350.5h2v4h-2zM97.5 332.5h2v5h-2zM105.5 325.5h2v6h-2zM107.5 332.5h2v15h-2zM126.5 334.5h2v9h-2zM139.5 320.5h2v5h-2zM141.5 324.5h2v3h-2zM152.5 282.5h2v11h-2zM155.5 294.5h2v5h-2zM169.5 274.5h2v14h-2zM173.5 271.5h2v9h-2zM179.5 247.5h2v9h-2zM183.5 226.5h2v7h-2zM189.5 210.5h2v3h-2zM193.5 192.5h2v10h-2zM196.5 203.5h2v10h-2zM204.5 194.5h2v12h-2zM214.5 170.5h2v5h-2zM217.5 179.5h2v15h-2zM222.5 186.5h2v14h-2zM227.5 199.5h2v2h-2zM229.5 203.5h2v10h-2zM245.5 171.5h2v3h-2zM247.5 172.5h2v9h-2zM253.5 171.5h2v9h-2zM255.5 173.5h2v8h-2zM257.5 183.5h2v5h-2zM265.5 177.5h2v11h-2zM268.5 187.5h2v11h-2zM273.5 176.5h2v13h-2zM279.5 177.5h2v12h-2zM281.5 193.5h2v11h-2zM282.5 202.5h2v7h-2zM283.5 208.5h2v7h-2zM284.5 212.5h2v8h-2zM294.5 197.5h2v6h-2zM298.5 175.5h2v5h-2zM315.5 115.5h2v5h-2zM333.5 63.5h2v19h-2zM339.5 67.5h2v15h-2zM340.5 87.5h2v9h-2zM342.5 95.5h2v16h-2zM349.5 83.5h2v16h-2zM350.5 92.5h2v17h-2zM353.5 111.5h2v12h-2zM360.5 117.5h2v9h-2zM362.5 124.5h2v14h-2zM365.5 131.5h2v9h-2zM373.5 93.5h2v13h-2zM381.5 81.5h2v18h-2zM383.5 94.5h2v13h-2zM388.5 80.5h2v12h-2zM393.5 87.5h2v3h-2zM395.5 89.5h2v9h-2zM399.5 77.5h2v12h-2zM402.5 89.5h2v10h-2zM404.5 103.5h2v12h-2zM408.5 112.5h2v4h-2zM411.5 121.5h2v6h-2zM412.5 129.5h2v8h-2zM418.5 135.5h2v8h-2zM421.5 145.5h2v9h-2zM435.5 110.5h2v9h-2zM439.5 110.5h2v15h-2zM444.5 114.5h2v9h-2zM445.5 119.5h2v21h-2zM447.5 150.5h2v11h-2zM453.5 171.5h2v9h-2zM463.5 152.5h2v25h-2zM465.5 173.5h2v13h-2zM466.5 175.5h2v14h-2zM469.5 184.5h2v11h-2zM473.5 179.5h2v18h-2zM475.5 202.5h2v10h-2zM477.5 206.5h2v8h-2zM481.5 213.5h2v17h-2zM488.5 224.5h2v8h-2zM492.5 234.5h2v19h-2zM505.5 215.5h2v9h-2zM507.5 226.5h2v14h-2zM509.5 221.5h2v16h-2zM521.5 197.5h2v18h-2zM527.5 194.5h2v5h-2zM529.5 198.5h2v7h-2zM530.5 209.5h2v20h-2zM535.5 232.5h2v7h-2zM538.5 237.5h2v10h-2zM543.5 244.5h2v15h-2zM551.5 251.5h2v8h-2zM558.5 261.5h2v8h-2zM560.5 269.5h2v9h-2zM562.5 272.5h2v10h-2zM565.5 276.5h2v9h-2zM569.5 276.5h2v9h-2zM573.5 285.5h2v7h-2zM586.5 258.5h2v12h-2zM599.5 242.5h2v4h-2zM603.5 245.5h2v11h-2zM605.5 264.5h2v16h-2zM609.5 271.5h2v6h-2zM611.5 273.5h2v6h-2zM620.5 257.5h2v12h-2zM625.5 232.5h2v13h-2zM627.5 244.5h2v5h-2zM629.5 256.5h2v5h-2zM636.5 251.5h2v9h-2zM637.5 266.5h2v5h-2zM641.5 274.5h2v8h-2zM646.5 279.5h2v6h-2zM654.5 292.5h2v4h-2zM656.5 298.5h2v5h-2zM657.5 301.5h2v6h-2zM666.5 296.5h2v3h-2zM672.5 254.5h2v11h-2zM674.5 266.5h2v4h-2zM682.5 257.5h2v4h-2zM688.5 245.5h2v4h-2zM690.5 247.5h2v9h-2zM699.5 215.5h2v5h-2zM703.5 213.5h2v4h-2zM708.5 206.5h2v5h-2zM711.5 214.5h2v3h-2zM720.5 192.5h2v5h-2zM722.5 192.5h2v3h-2zM730.5 185.5h2v6h-2zM734.5 177.5h2v13h-2zM737.5 175.5h2v13h-2zM741.5 184.5h2v12h-2zM751.5 166.5h2v8h-2zM757.5 153.5h2v8h-2zM759.5 155.5h2v7h-2zM761.5 160.5h2v7h-2zM770.5 129.5h2v10h-2zM772.5 142.5h2v12h-2zM774.5 157.5h2v6h-2zM775.5 163.5h2v13h-2zM779.5 169.5h2v9h-2zM787.5 149.5h2v9h-2zM792.5 87.5h2v12h-2z" stroke="#000" stroke-width="1" fill="#000" shape-rendering="crispEdges"/></mask>
<polyline points="3.0,400.1 4.0,400.2 5.0,400.3 6.0,400.4 7.0,400.6 8.0,400.7 9.0,400.8 10.0,401.0 11.0,401.2 12.0,401.4 13.0,401.6 14.0,401.8 15.0,401.9 16.0,401.6 17.0,401.3 18.0,401.0 19.0,400.5 20.0,399.9 21.0,399.2 22.0,398.6 23.0,397.2 24.0,395.9 25.0,394.6 26.0,393.4 27.0,391.9 28.0,390.3 29.0,388.7 30.0,387.1 31.0,385.7 32.0,384.2 33.0,382.8 34.0,381.5 35.0,380.2 36.0,378.9 37.0,377.6 38.0,376.7 39.0,375.6 40.0,374.4 41.0,373.2 42.0,372.1 43.0,371.0 44.0,370.1 45.0,369.4 46.0,368.8 47.0,368.2 48.0,367.5 49.0,366.9 50.0,366.3 51.0,366.0 52.0,365.7 53.0,365.5 54.0,365.8 55.0,366.1 56.0,366.4 57.0,366.2 58.0,366.1 59.0,366.0 60.0,366.0 61.0,365.6 62.0,365.2 63.0,364.8 64.0,364.4 65.0,364.0 66.0,363.6 67.0,363.3 68.0,363.0 69.0,362.7 70.0,362.5 71.0,361.9 72.0,361.3 73.0,360.7 74.0,360.2 75.0,360.0 76.0,359.8 77.0,359.6 78.0,359.4 79.0,359.0 80.0,358.8 81.0,358.5 82.0,358.2 83.0,357.9 84.0,357.5 85.0,357.2 86.0,356.7 87.0,356.2 88.0,355.6 89.0,354.9 90.0,354.1 91.0,353.4 92.0,352.5 93.0,351.7 94.0,350.9 95.0,350.0 96.0,349.3 97.0,348.9 98.0,348.7 99.0,348.6 100.0,348.0 101.0,346.3 102.0,344.2 103.0,343.1 104.0,342.7 105.0,342.2 106.0,342.1 107.0,342.1 108.0,342.1 109.0,342.0 110.0,341.9 111.0,341.7 112.0,341.5 113.0,341.2 114.0,340.8 115.0,340.2 116.0,339.6 117.0,338.9 118.0,338.8 119.0,338.6 120.0,338.4 121.0,338.3 122.0,338.1 123.0,337.9 124.0,337.7 125.0,337.5 126.0,337.3 127.0,337.1 128.0,336.9 129.0,336.7 130.0,336.4 131.0,336.2 132.0,336.0 133.0,335.9 134.0,335.9 135.0,335.7 136.0,335.6 137.0,335.5 138.0,335.3 139.0,335.0 140.0,334.8 141.0,334.5 142.0,334.2 143.0,334.0 144.0,333.8 145.0,333.6 146.0,333.3 147.0,332.8 148.0,332.4 149.0,331.6 150.0,330.6 151.0,329.6 152.0,327.3 153.0,325.1 154.0,324.6 155.0,324.1 156.0,323.6 157.0,323.1 158.0,322.4 159.0,321.5 160.0,320.7 161.0,320.2 162.0,319.3 163.0,318.5 164.0,317.1 165.0,315.0 166.0,312.8 167.0,310.5 168.0,306.5 169.0,304.0 170.0,302.9 171.0,301.3 172.0,299.7 173.0,298.2 174.0,296.6 175.0,295.0 176.0,293.4 177.0,291.9 178.0,290.4 179.0,288.4 180.0,286.4 181.0,284.4 182.0,282.8 183.0,280.0 184.0,277.3 185.0,274.5 186.0,271.6 187.0,268.9 188.0,266.4 189.0,263.8 190.0,260.5 191.0,257.1 192.0,253.7 193.0,250.7 194.0,249.0 195.0,247.3 196.0,245.7 197.0,244.3 198.0,242.4 199.0,240.5 200.0,238.5 201.0,236.5 202.0,234.3 203.0,232.0 204.0,230.4 205.0,229.6 206.0,228.9 207.0,228.1 208.0,226.6 209.0,224.2 210.0,221.3 211.0,218.8 212.0,216.5 213.0,214.0 214.0,211.8 215.0,210.1 216.0,207.9 217.0,205.2 218.0,202.8 219.0,201.0 220.0,199.1 221.0,198.1 222.0,197.3 223.0,196.6 224.0,196.0 225.0,195.5 226.0,194.9 227.0,195.4 228.0,195.4 229.0,195.5 230.0,195.8 231.0,196.0 232.0,196.3 233.0,196.4 234.0,196.4 235.0,196.4 236.0,196.3 237.0,195.9 238.0,195.0 239.0,194.1 240.0,193.6 241.0,193.1 242.0,192.6 243.0,192.0 244.0,191.3 245.0,190.6 246.0,189.9 247.0,189.3 248.0,188.7 249.0,188.1 250.0,188.2 251.0,188.2 252.0,187.9 253.0,187.9 254.0,187.9 255.0,188.0 256.0,188.0 257.0,188.1 258.0,188.1 259.0,188.1 260.0,188.0 261.0,187.9 262.0,187.8 263.0,187.7 264.0,187.7 265.0,187.4 266.0,187.2 267.0,186.9 268.0,186.7 269.0,186.4 270.0,186.2 271.0,185.8 272.0,185.1 273.0,183.4 274.0,182.8 275.0,182.4 276.0,182.1 277.0,181.5 278.0,181.3 279.0,181.1 280.0,181.8 281.0,182.9 282.0,183.9 283.0,184.8 284.0,185.6 285.0,186.4 286.0,187.6 287.0,188.9 288.0,189.6 289.0,189.9 290.0,190.1 291.0,190.5 292.0,190.9 293.0,191.3 294.0,191.7 295.0,192.2 296.0,192.5 297.0,192.8 298.0,193.0 299.0,193.1 300.0,192.7 301.0,192.3 302.0,191.3 303.0,190.1 304.0,189.0 305.0,188.1 306.0,187.4 307.0,186.5 308.0,185.5 309.0,184.5 310.0,183.6 311.0,182.3 312.0,180.8 313.0,179.4 314.0,178.0 315.0,176.6 316.0,174.6 317.0,172.5 318.0,170.2 319.0,167.8 320.0,165.5 321.0,163.2 322.0,160.1 323.0,156.9 324.0,153.7 325.0,150.6 326.0,147.9 327.0,145.0 328.0,142.1 329.0,139.3 330.0,137.4 331.0,135.6 332.0,133.5 333.0,130.8 334.0,128.1 335.0,125.3 336.0,122.8 337.0,119.9 338.0,116.7 339.0,113.6 340.0,110.5 341.0,107.9 342.0,105.2 343.0,103.5 344.0,101.7 345.0,100.0 346.0,98.3 347.0,96.7 348.0,96.0 349.0,95.1 350.0,93.8 351.0,93.4 352.0,93.0 353.0,92.5 354.0,92.5 355.0,92.6 356.0,92.7 357.0,92.7 358.0,93.1 359.0,93.6 360.0,94.2 361.0,94.7 362.0,96.0 363.0,97.4 364.0,98.7 365.0,100.0 366.0,100.9 367.0,102.1 368.0,103.4 369.0,104.6 370.0,105.3 371.0,105.8 372.0,106.4 373.0,107.3 374.0,108.2 375.0,108.5 376.0,109.0 377.0,109.4 378.0,110.0 379.0,111.2 380.0,111.0 381.0,110.7 382.0,110.4 383.0,110.0 384.0,109.8 385.0,109.4 386.0,109.0 387.0,108.7 388.0,108.4 389.0,108.1 390.0,107.8 391.0,107.6 392.0,107.3 393.0,106.7 394.0,105.9 395.0,105.1 396.0,104.3 397.0,103.4 398.0,102.8 399.0,102.5 400.0,102.1 401.0,100.9 402.0,100.2 403.0,99.7 404.0,99.1 405.0,98.6 406.0,97.8 407.0,97.1 408.0,96.7 409.0,95.9 410.0,95.8 411.0,95.7 412.0,96.2 413.0,97.1 414.0,98.1 415.0,99.1 416.0,100.2 417.0,101.6 418.0,103.1 419.0,104.6 420.0,106.2 421.0,107.6 422.0,109.1 423.0,110.5 424.0,111.7 425.0,112.8 426.0,113.8 427.0,114.9 428.0,115.5 429.0,116.8 430.0,118.1 431.0,118.9 432.0,119.6 433.0,120.5 434.0,121.4 435.0,122.3 436.0,122.8 437.0,123.5 438.0,124.6 439.0,125.6 440.0,126.5 441.0,127.5 442.0,128.5 443.0,128.9 444.0,129.5 445.0,130.0 446.0,130.6 447.0,132.1 448.0,133.0 449.0,134.0 450.0,135.1 451.0,135.9 452.0,136.7 453.0,137.5 454.0,138.3 455.0,139.2 456.0,140.1 457.0,141.0 458.0,142.2 459.0,143.7 460.0,144.9 461.0,145.9 462.0,146.5 463.0,146.9 464.0,147.4 465.0,148.2 466.0,149.3 467.0,150.4 468.0,151.5 469.0,152.6 470.0,153.8 471.0,155.1 472.0,156.5 473.0,157.8 474.0,159.7 475.0,162.5 476.0,165.3 477.0,168.1 478.0,170.7 479.0,173.4 480.0,175.6 481.0,177.7 482.0,179.9 483.0,182.3 484.0,185.7 485.0,189.1 486.0,191.6 487.0,193.9 488.0,196.2 489.0,198.5 490.0,199.8 491.0,201.4 492.0,203.1 493.0,204.8 494.0,206.3 495.0,207.6 496.0,208.9 497.0,210.2 498.0,211.5 499.0,213.2 500.0,214.4 501.0,215.5 502.0,216.3 503.0,217.3 504.0,218.3 505.0,219.3 506.0,220.5 507.0,221.6 508.0,222.8 509.0,224.0 510.0,225.7 511.0,227.4 512.0,228.3 513.0,228.4 514.0,229.2 515.0,229.7 516.0,229.4 517.0,229.2 518.0,228.9 519.0,228.6 520.0,227.8 521.0,226.9 522.0,225.9 523.0,225.1 524.0,224.6 525.0,224.1 526.0,223.7 527.0,223.5 528.0,223.2 529.0,223.0 530.0,223.1 531.0,223.2 532.0,222.8 533.0,222.6 534.0,222.3 535.0,222.1 536.0,221.9 537.0,221.6 538.0,221.2 539.0,221.9 540.0,222.6 541.0,223.3 542.0,223.9 543.0,224.5 544.0,224.9 545.0,225.4 546.0,226.2 547.0,227.0 548.0,227.7 549.0,228.5 550.0,229.2 551.0,229.9 552.0,230.8 553.0,231.6 554.0,232.4 555.0,233.3 556.0,234.4 557.0,235.8 558.0,237.2 559.0,238.6 560.0,240.5 561.0,242.4 562.0,244.2 563.0,246.0 564.0,246.7 565.0,247.5 566.0,249.4 567.0,251.2 568.0,253.1 569.0,256.1 570.0,259.0 571.0,260.9 572.0,262.0 573.0,263.1 574.0,264.0 575.0,265.1 576.0,266.3 577.0,267.4 578.0,268.6 579.0,269.7 580.0,270.9 581.0,271.8 582.0,272.0 583.0,272.2 584.0,272.5 585.0,272.7 586.0,272.9 587.0,273.2 588.0,273.1 589.0,273.1 590.0,273.1 591.0,272.8 592.0,272.5 593.0,272.3 594.0,272.2 595.0,272.0 596.0,271.7 597.0,271.4 598.0,270.8 599.0,270.1 600.0,269.4 601.0,268.7 602.0,268.2 603.0,268.0 604.0,267.8 605.0,267.7 606.0,267.2 607.0,266.8 608.0,266.5 609.0,266.2 610.0,265.9 611.0,265.5 612.0,264.9 613.0,264.4 614.0,263.9 615.0,263.5 616.0,263.0 617.0,262.6 618.0,262.2 619.0,261.8 620.0,261.4 621.0,261.0 622.0,259.6 623.0,258.4 624.0,257.4 625.0,256.7 626.0,256.4 627.0,256.1 628.0,255.8 629.0,255.7 630.0,255.7 631.0,255.8 632.0,255.9 633.0,256.1 634.0,256.7 635.0,257.5 636.0,258.3 637.0,259.1 638.0,259.9 639.0,260.7 640.0,261.4 641.0,262.0 642.0,262.7 643.0,263.3 644.0,263.9 645.0,264.3 646.0,264.6 647.0,264.8 648.0,265.0 649.0,265.2 650.0,265.3 651.0,265.4 652.0,265.5 653.0,265.5 654.0,265.6 655.0,266.1 656.0,266.9 657.0,267.7 658.0,268.5 659.0,269.3 660.0,270.2 661.0,271.7 662.0,274.0 663.0,277.1 664.0,278.6 665.0,280.0 666.0,281.4 667.0,282.7 668.0,284.1 669.0,285.2 670.0,285.4 671.0,285.5 672.0,285.7 673.0,285.8 674.0,285.8 675.0,285.9 676.0,286.1 677.0,285.7 678.0,285.3 679.0,284.9 680.0,284.6 681.0,284.3 682.0,284.0 683.0,283.7 684.0,282.7 685.0,281.7 686.0,280.7 687.0,279.6 688.0,278.6 689.0,277.7 690.0,277.2 691.0,276.3 692.0,275.5 693.0,274.4 694.0,272.8 695.0,271.1 696.0,269.5 697.0,267.3 698.0,265.2 699.0,264.4 700.0,262.3 701.0,259.8 702.0,257.2 703.0,254.0 704.0,250.9 705.0,247.6 706.0,244.9 707.0,243.0 708.0,241.5 709.0,240.0 710.0,239.0 711.0,237.9 712.0,236.8 713.0,235.7 714.0,234.8 715.0,233.8 716.0,232.8 717.0,231.5 718.0,229.8 719.0,227.9 720.0,225.9 721.0,224.2 722.0,222.7 723.0,221.3 724.0,220.0 725.0,218.4 726.0,216.5 727.0,214.8 728.0,213.2 729.0,211.5 730.0,209.9 731.0,208.8 732.0,207.9 733.0,205.4 734.0,203.2 735.0,201.9 736.0,200.7 737.0,199.4 738.0,198.4 739.0,197.6 740.0,196.7 741.0,195.9 742.0,195.1 743.0,194.5 744.0,193.9 745.0,193.4 746.0,192.9 747.0,192.0 748.0,191.1 749.0,190.2 750.0,189.4 751.0,188.2 752.0,186.9 753.0,185.6 754.0,184.4 755.0,183.1 756.0,181.8 757.0,180.6 758.0,179.3 759.0,178.4 760.0,177.5 761.0,176.5 762.0,175.6 763.0,174.6 764.0,173.7 765.0,172.7 766.0,171.4 767.0,170.2 768.0,169.2 769.0,168.5 770.0,167.8 771.0,166.9 772.0,166.1 773.0,165.3 774.0,164.6 775.0,164.1 776.0,163.6 777.0,163.2 778.0,162.8 779.0,162.5 780.0,162.3 781.0,161.8 782.0,161.3 783.0,160.8 784.0,160.3 785.0,159.7 786.0,159.4 787.0,159.4 788.0,159.5 789.0,159.9 790.0,157.0 791.0,154.1 792.0,151.1 793.0,150.1" fill="none" stroke="#0000ff" stroke-width="1.25" stroke-dasharray="1.25 3.2" mask="url(#cmask)"/>
<text x="795" y="178.6" fill="#ff0000" stroke="#ff0000" stroke-width="0.25" font-size="12" textLength="32.5" lengthAdjust="spacingAndGlyphs" >125,77</text>
<line x1="2" y1="539.5" x2="793" y2="539.5" stroke="#4a4a4a" stroke-width="1" stroke-dasharray="1.4 2.6" shape-rendering="crispEdges"/>
<line x1="2" y1="647.5" x2="793" y2="647.5" stroke="#4a4a4a" stroke-width="1" stroke-dasharray="1.4 2.6" shape-rendering="crispEdges"/>
<line x1="2" y1="724.5" x2="793" y2="724.5" stroke="#4a4a4a" stroke-width="1" stroke-dasharray="1.4 2.6" shape-rendering="crispEdges"/>
<line x1="2" y1="776.5" x2="793" y2="776.5" stroke="#4a4a4a" stroke-width="1" stroke-dasharray="1.4 2.6" shape-rendering="crispEdges"/>
<polyline points="3.1,546.6 7.4,544.8 13.5,541.7 17.2,539.9 22.1,535.6 29.5,531.9 33.1,531.3 39.3,529.1 43.0,528.5 49.1,529.4 52.8,531.3 57.7,532.8 61.4,533.5 66.3,532.5 71.2,531.3 77.3,530.0 83.5,530.3 90.8,530.7 98.2,530.7 104.3,529.4 110.5,531.0 117.8,531.0 128.9,532.5 135.0,534.3 141.2,533.7 147.3,533.1 154.8,528.8 164.6,523.3 172.0,517.8 181.8,515.3 189.2,510.4 195.3,505.3 201.5,505.3 208.8,505.3 218.6,505.5 224.8,509.8 230.9,515.3 238.3,521.5 245.7,522.4 254.2,522.7 260.4,524.5 269.0,528.8 277.6,531.5 283.7,535.6 288.6,539.3 294.9,541.1 303.5,536.8 310.9,530.1 317.0,520.8 324.4,514.7 331.7,506.7 337.9,502.4 340.3,502.4 347.7,508.6 353.8,514.7 360.0,522.7 367.3,531.3 374.7,535.6 382.1,531.9 388.2,530.3 395.6,530.3 402.9,530.7 410.3,535.0 417.7,542.3 425.0,548.5 429.9,552.1 437.3,550.7 442.4,547.0 447.3,546.6 453.4,550.3 460.8,555.6 469.4,559.8 478.0,564.2 486.6,568.7 492.7,572.4 497.6,572.4 506.2,567.5 513.6,563.0 520.9,556.4 529.5,548.5 538.1,547.5 546.7,550.9 555.3,554.6 563.9,557.7 573.7,560.1 581.1,559.8 586.1,557.1 592.3,552.1 599.6,544.8 607.0,541.1 614.4,542.3 620.5,541.7 626.6,539.0 635.2,537.7 645.1,541.1 653.6,546.0 662.2,551.2 668.4,552.8 674.5,549.7 680.7,544.8 686.8,539.3 694.2,533.1 702.7,526.4 710.1,521.7 718.7,518.8 726.7,516.6 730.0,515.4 736.7,515.5 740.0,515.5 746.7,517.4 749.2,518.5 755.9,518.3 759.2,517.2 765.0,518.7 769.2,517.2 774.2,518.5 778.4,520.2 783.4,523.5 787.6,525.5 792.6,524.5" fill="none" stroke="#800080" stroke-width="1" stroke-dasharray="4 3" shape-rendering="crispEdges"/>
<polyline points="3.1,547.2 6.1,544.8 9.8,539.3 13.5,535.6 18.4,531.9 22.1,530.7 25.8,530.0 28.2,528.6 33.1,528.6 35.6,528.2 40.5,525.1 43.0,526.4 46.6,530.0 49.1,531.5 54.0,531.9 57.7,534.3 60.8,537.7 63.8,535.0 68.7,531.3 73.0,528.6 76.1,528.6 78.6,529.4 82.2,529.4 85.9,530.3 90.8,531.9 94.5,530.7 99.4,530.3 103.1,528.6 106.8,528.8 112.9,531.9 117.8,531.3 121.5,531.9 126.4,532.5 128.9,535.0 133.8,536.4 136.2,535.6 141.2,532.9 144.8,531.5 148.1,531.3 151.8,525.4 156.0,524.9 159.1,525.1 163.4,516.5 168.3,509.6 174.5,515.3 179.4,514.5 184.3,509.8 189.2,504.3 193.5,500.3 199.0,502.4 203.9,504.5 208.2,506.5 211.9,504.3 215.0,504.3 219.9,508.0 224.8,514.7 229.7,520.8 234.0,526.4 238.3,526.4 245.7,522.4 253.0,522.4 257.9,526.1 264.1,529.4 269.0,531.9 273.9,534.3 278.2,534.3 282.5,539.3 287.4,544.2 292.3,543.6 294.3,543.3 298.6,538.6 305.3,530.7 309.6,523.9 313.9,514.7 316.4,513.5 321.9,508.0 326.8,503.0 331.7,498.1 334.2,499.4 337.3,496.3 340.3,502.4 344.0,512.3 348.9,516.5 354.4,527.6 360.0,533.1 363.6,538.6 367.3,541.7 371.0,539.9 374.7,536.8 379.6,530.4 385.7,528.5 391.9,528.5 398.0,528.5 402.9,530.7 407.8,537.4 412.7,544.2 418.9,550.3 424.4,556.1 429.9,553.4 434.8,548.5 438.7,545.4 444.2,543.3 447.3,546.6 452.2,552.8 457.1,560.1 461.4,559.3 466.9,563.2 471.8,562.2 476.7,566.9 482.9,572.4 489.0,572.4 494.5,575.5 498.8,572.4 503.7,565.6 508.6,560.5 512.3,558.9 518.5,549.7 522.1,549.1 528.9,541.3 534.4,545.8 539.3,548.5 544.2,554.0 549.2,555.6 554.1,557.3 559.0,557.3 562.7,560.1 567.6,561.4 576.2,561.4 580.0,559.5 584.9,554.0 589.8,548.5 594.7,541.1 598.4,537.4 602.1,536.4 605.8,540.9 611.9,544.5 616.8,542.6 620.5,542.3 624.2,535.0 629.1,534.3 634.0,537.4 641.4,542.3 647.5,546.6 652.4,549.4 657.3,551.9 661.6,556.4 665.9,554.8 669.6,552.8 673.3,544.8 678.2,538.0 683.1,535.6 688.0,530.1 692.9,529.1 699.1,521.5 705.2,517.2 710.1,516.3 715.0,518.4 721.2,515.1 726.7,513.5 733.3,513.3 736.7,516.2 740.9,519.5 744.2,520.5 746.7,520.4 749.2,518.7 752.1,519.5 754.2,518.3 757.1,516.6 760.0,517.0 764.2,519.4 766.7,516.6 769.2,515.2 770.9,515.8 774.2,520.4 778.4,524.9 781.7,528.7 785.1,529.5 786.7,529.5 788.0,530.5 790.5,524.1 792.6,517.4" fill="none" stroke="#0000ff" stroke-width="1" shape-rendering="crispEdges"/>
<polyline points="3.1,642.4 5.5,639.4 8.6,633.5 11.7,637.2 16.0,628.3 18.4,630.2 21.5,636.3 26.4,636.7 30.1,640.0 31.3,638.4 33.1,646.7 39.3,638.1 42.3,644.3 46.6,650.4 49.1,650.2 54.0,645.3 58.7,662.1 60.8,659.0 62.6,641.8 66.3,634.5 70.0,638.1 74.3,640.6 79.2,633.5 83.5,641.8 87.4,651.4 90.8,649.2 95.7,642.4 97.6,644.9 100.0,641.8 102.5,636.7 108.0,644.9 112.9,644.0 115.4,646.1 118.4,643.3 120.3,649.8 122.7,649.8 126.4,651.0 130.1,646.5 132.6,646.7 135.0,649.2 137.5,645.8 139.9,645.5 141.8,641.6 144.2,643.1 147.3,638.8 149.3,634.5 151.4,624.6 154.2,632.0 159.1,640.0 161.6,628.3 166.5,611.8 169.5,623.4 172.2,644.3 175.7,633.8 178.8,628.9 181.8,627.7 186.1,640.0 189.2,627.1 192.3,613.6 194.1,614.8 197.2,625.9 199.0,627.7 201.5,624.4 204.5,636.3 205.8,636.9 207.6,644.3 211.3,632.6 213.7,638.1 218.6,638.4 221.7,640.6 223.6,649.2 226.0,646.7 228.5,648.0 232.4,666.4 234.6,659.0 236.4,656.6 238.9,643.7 240.7,649.8 244.4,633.2 248.1,636.7 252.0,626.5 255.5,638.1 259.2,647.3 262.8,648.0 265.9,656.3 269.0,653.5 271.4,650.7 273.6,657.2 277.6,646.7 280.0,651.6 283.5,661.5 289.8,653.5 294.3,651.6 296.8,644.5 298.6,648.0 301.7,629.5 302.3,626.5 304.7,625.3 307.8,616.7 310.9,618.3 313.9,611.1 316.4,622.2 318.8,618.3 322.5,622.2 326.8,615.8 329.3,620.3 331.1,616.7 333.6,627.7 336.6,621.6 338.5,625.9 341.6,647.3 344.0,654.7 347.1,653.5 350.1,659.6 352.6,667.0 355.7,673.7 358.7,667.6 362.4,664.5 364.3,654.7 367.9,661.5 371.6,644.3 373.5,640.6 376.5,632.6 378.4,633.8 382.7,626.5 384.5,632.6 386.4,627.1 388.8,636.3 391.9,636.9 394.3,643.7 395.8,640.0 399.2,651.0 401.1,648.6 406.6,659.0 409.1,657.2 413.4,669.4 416.4,666.4 418.9,667.0 421.6,677.4 426.2,659.0 430.5,654.1 434.2,636.3 436.2,641.8 439.9,641.2 442.4,632.2 444.2,634.5 446.7,650.4 447.9,656.6 451.0,661.5 454.6,676.2 458.3,673.1 461.4,659.0 463.8,674.4 465.7,673.7 471.6,652.3 473.7,662.1 476.1,659.0 479.2,662.1 481.6,679.3 485.3,662.4 489.0,665.1 490.8,662.7 492.4,680.5 498.8,654.1 500.1,655.9 501.9,645.5 504.4,639.6 506.8,647.3 508.6,645.5 510.5,652.3 512.3,633.5 516.0,632.2 521.5,644.3 528.3,637.5 533.8,652.9 537.5,658.4 539.6,664.5 541.5,657.8 545.5,672.3 547.9,670.1 551.6,660.2 554.7,660.2 556.5,656.8 559.0,659.0 562.0,662.1 564.5,653.5 567.6,657.8 570.6,662.4 573.1,655.3 577.4,657.8 580.0,651.0 581.8,644.3 584.9,640.8 587.4,641.2 591.7,631.4 592.9,631.8 595.3,628.3 598.4,630.2 601.5,633.2 603.3,640.6 605.5,658.4 607.0,648.0 611.3,661.5 615.6,654.7 620.5,653.1 621.7,651.0 624.2,633.2 626.0,631.4 629.7,641.8 634.0,640.6 637.1,649.8 640.1,651.6 644.4,669.4 651.8,658.4 655.5,665.1 657.3,661.5 661.6,666.4 663.5,654.7 667.8,651.6 671.4,634.5 675.7,633.5 679.2,623.4 684.3,627.1 688.0,624.9 689.9,630.8 692.3,648.0 695.4,631.4 697.8,628.1 700.3,634.2 702.5,627.3 704.6,633.2 708.3,633.8 712.0,630.2 715.6,638.1 721.2,638.1 723.3,640.2 725.3,631.2 727.7,635.9 729.6,633.4 731.6,638.1 733.6,630.3 737.2,641.5 741.5,647.1 743.2,644.5 745.6,648.4 748.4,640.7 750.5,642.4 754.4,638.5 756.5,633.4 758.2,633.8 760.8,638.1 764.2,636.4 766.4,630.3 769.0,632.9 772.4,641.1 776.3,656.5 778.4,655.7 781.9,651.8 785.3,645.4 787.4,656.4 789.6,642.8 790.9,630.8 792.6,623.5" fill="none" stroke="#0000ff" stroke-width="1" shape-rendering="crispEdges"/>
<polyline points="3.1,752.9 6.1,744.9 9.8,738.4 11.7,744.5 15.3,731.4 17.8,731.0 20.3,733.8 22.1,733.5 23.3,736.3 27.6,728.3 31.3,734.2 33.4,744.5 35.6,732.6 38.3,726.5 40.5,731.4 43.0,744.3 46.4,751.4 48.5,744.9 52.8,742.4 58.7,758.0 62.6,739.4 66.3,733.5 72.4,733.5 77.1,738.4 81.6,744.3 83.5,738.8 87.4,746.1 91.4,742.4 93.9,734.5 95.7,734.5 97.6,738.1 100.7,735.1 103.7,728.3 108.0,750.4 111.1,747.3 114.8,739.4 118.1,736.3 120.3,749.2 122.7,741.8 125.2,743.1 128.6,754.1 131.3,748.2 133.8,749.2 138.1,737.5 141.2,740.0 145.5,733.5 148.1,733.5 151.4,716.3 153.6,732.6 157.3,731.4 159.5,739.4 162.2,724.6 166.1,715.4 168.3,722.2 170.5,742.4 174.5,742.1 178.1,733.8 180.6,737.2 183.1,728.9 184.9,729.5 187.3,725.3 190.4,724.9 192.6,720.7 197.5,734.2 200.8,730.2 203.9,730.5 207.0,731.4 212.5,721.2 215.6,725.3 217.4,739.4 219.3,733.5 223.6,746.1 226.6,744.5 232.1,753.5 234.6,743.7 236.8,743.3 240.1,738.1 244.4,732.2 248.1,735.1 252.4,732.6 257.9,746.1 260.4,746.7 263.1,741.6 265.9,750.2 268.4,746.7 269.6,749.4 271.4,743.3 273.6,752.3 277.3,743.3 281.2,759.6 285.5,764.2 291.1,749.8 294.3,754.1 296.8,742.4 298.6,741.8 301.7,732.6 304.1,734.2 307.8,725.3 310.3,726.1 314.5,717.5 316.4,726.1 320.1,719.7 324.4,719.1 326.8,714.8 331.1,711.8 333.2,724.9 336.4,718.3 337.9,721.6 339.7,738.1 343.4,750.2 347.1,739.6 353.2,754.1 355.1,753.9 357.3,750.7 362.4,760.2 364.3,756.8 366.7,758.0 369.8,747.3 372.9,741.6 374.7,746.1 377.8,738.1 380.8,738.8 384.5,744.9 387.0,740.6 388.8,744.9 391.9,740.6 394.3,743.3 397.4,742.4 401.1,744.5 405.4,758.0 409.1,758.8 413.4,769.4 416.4,764.2 421.6,774.4 426.9,759.6 430.5,755.3 434.2,745.5 437.3,747.3 440.5,754.1 443.0,750.4 444.8,751.6 447.9,769.1 451.6,770.3 456.5,778.4 458.6,771.3 461.4,758.4 463.8,769.1 468.8,771.3 471.6,760.5 474.3,771.9 477.3,773.7 479.2,768.6 483.1,777.2 485.6,769.4 488.4,771.3 490.8,768.6 492.7,775.2 495.1,773.1 498.8,761.7 504.4,756.6 510.5,765.1 512.6,754.7 518.5,746.7 521.5,754.3 525.8,744.3 528.9,746.1 532.0,760.2 533.2,758.4 537.5,761.2 540.6,764.9 544.2,769.1 547.3,768.2 549.8,763.7 552.8,769.1 554.7,769.1 556.8,764.5 562.7,774.4 564.9,768.6 566.6,773.1 568.8,769.4 572.5,770.7 574.9,774.4 577.1,768.6 580.0,764.5 582.5,754.1 585.5,746.1 587.6,754.1 591.0,741.6 593.5,741.2 597.2,739.4 599.0,741.6 601.5,741.2 605.5,765.4 607.6,755.3 611.7,761.2 615.6,749.8 617.4,748.6 620.5,748.0 624.4,731.4 627.3,744.3 630.3,752.3 632.2,752.9 634.3,749.4 638.3,756.6 640.1,756.6 642.6,762.9 644.4,760.5 646.9,763.3 650.6,763.7 653.6,766.4 655.5,770.1 657.3,769.4 661.0,775.9 664.1,763.7 665.9,760.8 667.8,762.1 671.4,736.3 675.1,744.3 679.4,736.3 682.5,743.3 686.8,735.1 689.9,735.7 692.3,744.3 694.8,733.0 698.4,726.5 700.9,730.8 702.7,729.5 704.6,732.0 706.4,728.6 708.9,731.4 710.4,730.8 713.2,735.1 715.6,733.2 719.3,724.9 722.2,728.5 724.0,724.5 726.2,722.3 728.8,721.1 731.5,731.1 733.3,725.4 737.2,738.2 739.4,733.3 741.6,742.2 745.6,736.9 749.6,728.9 752.7,735.1 756.2,726.3 762.4,738.2 768.6,722.3 772.6,744.4 773.9,746.1 778.7,751.4 781.8,749.2 785.4,740.4 787.3,745.3 788.7,736.9 789.8,731.6 791.6,721.1 792.9,724.5" fill="none" stroke="#0000ff" stroke-width="1" shape-rendering="crispEdges"/>
<circle cx="771.5" cy="723.4" r="21.6" fill="#ff0000" fill-opacity="0.5" stroke="#000" stroke-width="1.2"/>
<rect x="3" y="2" width="495" height="16" fill="#ffffff" fill-opacity="0.74"/>
<rect x="3" y="18" width="378" height="15" fill="#ffffff" fill-opacity="0.74"/>
<rect x="3" y="33" width="401" height="15" fill="#ffffff" fill-opacity="0.74"/>
<rect x="3" y="48" width="572" height="14.399999999999999" fill="#ffffff" fill-opacity="0.74"/>
<path d="M11.5 4 V7 M11.5 13 V16" stroke="#000" stroke-width="1"/>
<rect x="8.5" y="7.5" width="6" height="5" fill="#fff" stroke="#000" stroke-width="1.2"/>
<text x="19.5" y="13.75" fill="#000" stroke="#000" stroke-width="0.25" font-size="12" textLength="227.0" lengthAdjust="spacingAndGlyphs" >Euro-Bund [FGBL c1 EUX  Täglich] 12.07.2011 -</text>
<text x="251.5" y="13.75" fill="#00c000" stroke="#00c000" stroke-width="0.25" font-size="12" textLength="44.5" lengthAdjust="spacingAndGlyphs" >O:129,27</text>
<text x="299.3" y="13.75" fill="#000" stroke="#000" stroke-width="0.25" font-size="12" textLength="88.5" lengthAdjust="spacingAndGlyphs" >H:130,91 L:128,59</text>
<text x="390.6" y="13.75" fill="#ff0000" stroke="#ff0000" stroke-width="0.25" font-size="12" textLength="105.0" lengthAdjust="spacingAndGlyphs" >C:128,74 -0,36 -0,28%</text>
<path d="M5.3 27.4 L6.4 26.1 L7.5 24.1 L8.3 22.6 L9.3 22.4 L10.3 23.9 L11.4 25.4 L12.5 26.8 L13.5 28.0 L14.5 28.0 L15.4 26.8 L16.5 24.4" fill="none" stroke="#000" stroke-width="1.15"/>
<text x="19.5" y="28.7" fill="#000" stroke="#000" stroke-width="0.25" font-size="12" textLength="219.5" lengthAdjust="spacingAndGlyphs" >Moving Average Simple 200 [Close, 200, Nein]</text>
<text x="242.5" y="28.7" fill="#006400" stroke="#006400" stroke-width="0.25" font-size="12" textLength="31.5" lengthAdjust="spacingAndGlyphs" >124,03</text>
<text x="278" y="28.7" fill="#ff0000" stroke="#ff0000" stroke-width="0.25" font-size="12" textLength="22.0" lengthAdjust="spacingAndGlyphs" >0 0%</text>
<text x="303.8" y="28.7" fill="#000" stroke="#000" stroke-width="0.25" font-size="12" textLength="75.0" lengthAdjust="spacingAndGlyphs" >{FGBL c1 EUX}</text>
<path d="M5.3 42.4 L6.4 41.0 L7.5 39.0 L8.3 37.5 L9.3 37.4 L10.3 38.9 L11.4 40.4 L12.5 41.8 L13.5 42.9 L14.5 42.9 L15.4 41.8 L16.5 39.4" fill="none" stroke="#000" stroke-width="1.15"/>
<text x="19.5" y="43.65" fill="#000" stroke="#000" stroke-width="0.25" font-size="12" textLength="207.5" lengthAdjust="spacingAndGlyphs" >Moving Average Simple 50 [Close, 50, Nein]</text>
<text x="230.7" y="43.65" fill="#a0522d" stroke="#a0522d" stroke-width="0.25" font-size="12" textLength="32.4" lengthAdjust="spacingAndGlyphs" >125,29</text>
<text x="266.2" y="43.65" fill="#00c000" stroke="#00c000" stroke-width="0.25" font-size="12" textLength="58.2" lengthAdjust="spacingAndGlyphs" >+0,13 +0,1%</text>
<text x="327.6" y="43.65" fill="#000" stroke="#000" stroke-width="0.25" font-size="12" textLength="75.0" lengthAdjust="spacingAndGlyphs" >{FGBL c1 EUX}</text>
<path d="M5.3 57.3 L6.4 56.0 L7.5 54.0 L8.3 52.5 L9.3 52.3 L10.3 53.8 L11.4 55.3 L12.5 56.7 L13.5 57.9 L14.5 57.9 L15.4 56.7 L16.5 54.3" fill="none" stroke="#000" stroke-width="1.15"/>
<text x="19.5" y="58.6" fill="#000" stroke="#000" stroke-width="0.25" font-size="12" textLength="138.0" lengthAdjust="spacingAndGlyphs" >Bollinger Bands [Close, 20, 2]</text>
<text x="160.6" y="58.6" fill="#0000ff" stroke="#0000ff" stroke-width="0.25" font-size="12" textLength="75.4" lengthAdjust="spacingAndGlyphs" >Mid Line 126,53</text>
<text x="239.2" y="58.6" fill="#a09000" stroke="#a09000" stroke-width="0.25" font-size="12" textLength="189.0" lengthAdjust="spacingAndGlyphs" >Upper Band 128,46 Lower Band 124,60</text>
<text x="431.7" y="58.6" fill="#00c000" stroke="#00c000" stroke-width="0.25" font-size="12" textLength="64.0" lengthAdjust="spacingAndGlyphs" >+0,16 +0,12%</text>
<text x="500.2" y="58.6" fill="#000" stroke="#000" stroke-width="0.25" font-size="12" textLength="73.5" lengthAdjust="spacingAndGlyphs" >{FGBL c1 EUX}</text>
<text x="4.7" y="73.4" fill="#000" stroke="#000" stroke-width="0.25" font-size="9.8" textLength="9.6" lengthAdjust="spacingAndGlyphs" >©</text>
<text x="16" y="74.5" fill="#000" stroke="#000" stroke-width="0.25" font-size="12" textLength="129.0" lengthAdjust="spacingAndGlyphs" >www.tradesignalonline.com</text>
<rect x="3" y="482" width="337" height="16" fill="#ffffff" fill-opacity="0.74"/>
<path d="M5.3 493.0 L6.4 491.7 L7.5 489.7 L8.3 488.2 L9.3 488.0 L10.3 489.5 L11.4 491.0 L12.5 492.4 L13.5 493.6 L14.5 493.6 L15.4 492.4 L16.5 490.0" fill="none" stroke="#000" stroke-width="1.15"/>
<text x="19.5" y="494.3" fill="#000" stroke="#000" stroke-width="0.25" font-size="12" textLength="81.0" lengthAdjust="spacingAndGlyphs" >MACD [12, 26, 9]</text>
<text x="104.6" y="494.3" fill="#0000ff" stroke="#0000ff" stroke-width="0.25" font-size="12" textLength="19.6" lengthAdjust="spacingAndGlyphs" >0,71</text>
<text x="128.4" y="494.3" fill="#800080" stroke="#800080" stroke-width="0.25" font-size="12" textLength="56.6" lengthAdjust="spacingAndGlyphs" >Trigger 0,50</text>
<text x="188.5" y="494.3" fill="#00c000" stroke="#00c000" stroke-width="0.25" font-size="12" textLength="71.0" lengthAdjust="spacingAndGlyphs" >+0,12 +20,64%</text>
<text x="262.7" y="494.3" fill="#000" stroke="#000" stroke-width="0.25" font-size="12" textLength="74.0" lengthAdjust="spacingAndGlyphs" >{FGBL c1 EUX}</text>
<rect x="3" y="595" width="321" height="16" fill="#ffffff" fill-opacity="0.74"/>
<path d="M5.3 605.6 L6.4 604.3 L7.5 602.3 L8.3 600.8 L9.3 600.6 L10.3 602.1 L11.4 603.6 L12.5 605.0 L13.5 606.2 L14.5 606.2 L15.4 605.0 L16.5 602.6" fill="none" stroke="#000" stroke-width="1.15"/>
<text x="19.5" y="606.9" fill="#000" stroke="#000" stroke-width="0.25" font-size="12" textLength="132.0" lengthAdjust="spacingAndGlyphs" >Momentum [Close, 10, Nein]</text>
<text x="154.7" y="606.9" fill="#0000ff" stroke="#0000ff" stroke-width="0.25" font-size="12" textLength="21.0" lengthAdjust="spacingAndGlyphs" >2,56</text>
<text x="179.7" y="606.9" fill="#00c000" stroke="#00c000" stroke-width="0.25" font-size="12" textLength="64.0" lengthAdjust="spacingAndGlyphs" >+0,33 +14,8%</text>
<text x="247" y="606.9" fill="#000" stroke="#000" stroke-width="0.25" font-size="12" textLength="74.5" lengthAdjust="spacingAndGlyphs" >{FGBL c1 EUX}</text>
<rect x="3" y="699" width="416" height="16" fill="#ffffff" fill-opacity="0.74"/>
<path d="M5.3 708.9 L6.4 707.6 L7.5 705.6 L8.3 704.1 L9.3 703.9 L10.3 705.4 L11.4 706.9 L12.5 708.3 L13.5 709.5 L14.5 709.5 L15.4 708.3 L16.5 705.9" fill="none" stroke="#000" stroke-width="1.15"/>
<text x="19.5" y="710.2" fill="#000" stroke="#000" stroke-width="0.25" font-size="12" textLength="227.0" lengthAdjust="spacingAndGlyphs" >Relative Strength Index [Close, 14, 30, 70, Nein]</text>
<text x="250.2" y="710.2" fill="#0000ff" stroke="#0000ff" stroke-width="0.25" font-size="12" textLength="27.0" lengthAdjust="spacingAndGlyphs" >69,06</text>
<text x="280.1" y="710.2" fill="#ff0000" stroke="#ff0000" stroke-width="0.25" font-size="12" textLength="58.5" lengthAdjust="spacingAndGlyphs" >-3,71 -5,09%</text>
<text x="342.2" y="710.2" fill="#000" stroke="#000" stroke-width="0.25" font-size="12" textLength="74.2" lengthAdjust="spacingAndGlyphs" >{FGBL c1 EUX}</text>
<rect x="1168" y="26" width="4" height="1" fill="#000" />
<text x="1174.6" y="30.6" fill="#000" stroke="#000" stroke-width="0.25" font-size="12" textLength="32.6" lengthAdjust="spacingAndGlyphs" >132,00</text>
<rect x="1168" y="71" width="4" height="1" fill="#000" />
<text x="1174.6" y="75.6" fill="#000" stroke="#000" stroke-width="0.25" font-size="12" textLength="32.6" lengthAdjust="spacingAndGlyphs" >130,00</text>
<rect x="1168" y="116" width="4" height="1" fill="#000" />
<text x="1174.6" y="120.6" fill="#000" stroke="#000" stroke-width="0.25" font-size="12" textLength="32.6" lengthAdjust="spacingAndGlyphs" >128,00</text>
<rect x="1168" y="162" width="4" height="1" fill="#000" />
<text x="1174.6" y="166.6" fill="#000" stroke="#000" stroke-width="0.25" font-size="12" textLength="32.6" lengthAdjust="spacingAndGlyphs" >126,00</text>
<rect x="1168" y="209" width="4" height="1" fill="#000" />
<text x="1174.6" y="213.6" fill="#000" stroke="#000" stroke-width="0.25" font-size="12" textLength="32.6" lengthAdjust="spacingAndGlyphs" >124,00</text>
<rect x="1168" y="257" width="4" height="1" fill="#000" />
<text x="1174.6" y="261.6" fill="#000" stroke="#000" stroke-width="0.25" font-size="12" textLength="32.6" lengthAdjust="spacingAndGlyphs" >122,00</text>
<rect x="1168" y="305" width="4" height="1" fill="#000" />
<text x="1174.6" y="309.6" fill="#000" stroke="#000" stroke-width="0.25" font-size="12" textLength="32.6" lengthAdjust="spacingAndGlyphs" >120,00</text>
<rect x="1168" y="354" width="4" height="1" fill="#000" />
<text x="1174.6" y="358.6" fill="#000" stroke="#000" stroke-width="0.25" font-size="12" textLength="32.6" lengthAdjust="spacingAndGlyphs" >118,00</text>
<rect x="1168" y="404" width="4" height="1" fill="#000" />
<text x="1174.6" y="408.6" fill="#000" stroke="#000" stroke-width="0.25" font-size="12" textLength="32.6" lengthAdjust="spacingAndGlyphs" >116,00</text>
<rect x="1168" y="455" width="4" height="1" fill="#000" />
<text x="1174.6" y="459.6" fill="#000" stroke="#000" stroke-width="0.25" font-size="12" textLength="32.6" lengthAdjust="spacingAndGlyphs" >114,00</text>
<rect x="1168" y="468" width="2" height="1" fill="#000" />
<rect x="1168" y="442" width="2" height="1" fill="#000" />
<rect x="1168" y="430" width="2" height="1" fill="#000" />
<rect x="1168" y="417" width="2" height="1" fill="#000" />
<rect x="1168" y="392" width="2" height="1" fill="#000" />
<rect x="1168" y="379" width="2" height="1" fill="#000" />
<rect x="1168" y="367" width="2" height="1" fill="#000" />
<rect x="1168" y="342" width="2" height="1" fill="#000" />
<rect x="1168" y="329" width="2" height="1" fill="#000" />
<rect x="1168" y="317" width="2" height="1" fill="#000" />
<rect x="1168" y="293" width="2" height="1" fill="#000" />
<rect x="1168" y="281" width="2" height="1" fill="#000" />
<rect x="1168" y="269" width="2" height="1" fill="#000" />
<rect x="1168" y="245" width="2" height="1" fill="#000" />
<rect x="1168" y="233" width="2" height="1" fill="#000" />
<rect x="1168" y="221" width="2" height="1" fill="#000" />
<rect x="1168" y="197" width="2" height="1" fill="#000" />
<rect x="1168" y="186" width="2" height="1" fill="#000" />
<rect x="1168" y="174" width="2" height="1" fill="#000" />
<rect x="1168" y="151" width="2" height="1" fill="#000" />
<rect x="1168" y="139" width="2" height="1" fill="#000" />
<rect x="1168" y="128" width="2" height="1" fill="#000" />
<rect x="1168" y="105" width="2" height="1" fill="#000" />
<rect x="1168" y="93" width="2" height="1" fill="#000" />
<rect x="1168" y="82" width="2" height="1" fill="#000" />
<rect x="1168" y="60" width="2" height="1" fill="#000" />
<rect x="1168" y="48" width="2" height="1" fill="#000" />
<rect x="1168" y="37" width="2" height="1" fill="#000" />
<text x="1170" y="13.6" fill="#000" stroke="#000" stroke-width="0.25" font-size="12" textLength="33.5" lengthAdjust="spacingAndGlyphs" >€/EUR</text>
<path d="M1208.5 7 L1215 7 L1211.75 10.5 Z" fill="#000"/>
<text x="1213.6" y="6.6" fill="#000" font-size="7.5" font-weight="bold" textLength="5.6" lengthAdjust="spacingAndGlyphs">ln</text>
<path d="M1168 99.23488179681226 L1173 92.73488179681226 L1218.5 92.73488179681226 L1218.5 105.73488179681226 L1173 105.73488179681226 Z" fill="url(#flg)" stroke="#404040" stroke-width="1.2"/>
<text x="1179.6" y="103.63488179681227" fill="#000" stroke="#000" stroke-width="0.25" font-size="12" textLength="32.5" lengthAdjust="spacingAndGlyphs" >128,74</text>
<text x="1170" y="494.3" fill="#000" stroke="#000" stroke-width="0.25" font-size="12" textLength="31.3" lengthAdjust="spacingAndGlyphs" >MACD</text>
<path d="M1208.5 487 L1215 487 L1211.75 490.5 Z" fill="#000"/>
<rect x="1168" y="587" width="2" height="1" fill="#000" />
<rect x="1168" y="579" width="2" height="1" fill="#000" />
<rect x="1168" y="571" width="4" height="1" fill="#000" />
<rect x="1168" y="563" width="2" height="1" fill="#000" />
<rect x="1168" y="555" width="2" height="1" fill="#000" />
<rect x="1168" y="547" width="2" height="1" fill="#000" />
<rect x="1168" y="539" width="2" height="1" fill="#000" />
<rect x="1168" y="531" width="2" height="1" fill="#000" />
<rect x="1168" y="523" width="2" height="1" fill="#000" />
<rect x="1168" y="515" width="2" height="1" fill="#000" />
<rect x="1168" y="507" width="4" height="1" fill="#000" />
<rect x="1168" y="499" width="2" height="1" fill="#000" />
<text x="1174.5" y="511.6" fill="#000" stroke="#000" stroke-width="0.25" font-size="12" textLength="20.7" lengthAdjust="spacingAndGlyphs" >1,00</text>
<text x="1173.3" y="575.6" fill="#000" stroke="#000" stroke-width="0.25" font-size="12" textLength="24.2" lengthAdjust="spacingAndGlyphs" >-1,00</text>
<path d="M1168 523.72 L1173 517.22 L1218.5 517.22 L1218.5 530.22 L1173 530.22 Z" fill="url(#flg)" stroke="#800080" stroke-width="1.2"/>
<text x="1179.6" y="528.12" fill="#000" stroke="#000" stroke-width="0.25" font-size="12" textLength="14.8" lengthAdjust="spacingAndGlyphs" >0,5</text>
<path d="M1168 516.4874 L1173 509.9874 L1218.5 509.9874 L1218.5 522.9874 L1173 522.9874 Z" fill="url(#flg)" stroke="#0000ff" stroke-width="1.2"/>
<text x="1179.6" y="520.8874" fill="#000" stroke="#000" stroke-width="0.25" font-size="12" textLength="20.7" lengthAdjust="spacingAndGlyphs" >0,71</text>
<path d="M1168 539.75 L1173 533.25 L1218.5 533.25 L1218.5 546.25 L1173 546.25 Z" fill="url(#flg)" stroke="#7a7a7a" stroke-width="1.2"/>
<text x="1179.6" y="544.15" fill="#000" stroke="#000" stroke-width="0.25" font-size="12" textLength="5.9" lengthAdjust="spacingAndGlyphs" >0</text>
<text x="1170" y="607" fill="#000" stroke="#000" stroke-width="0.25" font-size="12" textLength="26.0" lengthAdjust="spacingAndGlyphs" >MOM</text>
<path d="M1208.5 600.5 L1215 600.5 L1211.75 604 Z" fill="#000"/>
<rect x="1168" y="686" width="2" height="1" fill="#000" />
<rect x="1168" y="676" width="2" height="1" fill="#000" />
<rect x="1168" y="667" width="2" height="1" fill="#000" />
<rect x="1168" y="657" width="2" height="1" fill="#000" />
<rect x="1168" y="648" width="2" height="1" fill="#000" />
<rect x="1168" y="638" width="2" height="1" fill="#000" />
<rect x="1168" y="628" width="2" height="1" fill="#000" />
<rect x="1168" y="619" width="2" height="1" fill="#000" />
<path d="M1168 622.924 L1173 616.424 L1218.5 616.424 L1218.5 629.424 L1173 629.424 Z" fill="url(#flg)" stroke="#0000ff" stroke-width="1.2"/>
<text x="1179.6" y="627.324" fill="#000" stroke="#000" stroke-width="0.25" font-size="12" textLength="20.7" lengthAdjust="spacingAndGlyphs" >2,56</text>
<path d="M1168 648.0 L1173 641.5 L1218.5 641.5 L1218.5 654.5 L1173 654.5 Z" fill="url(#flg)" stroke="#7a7a7a" stroke-width="1.2"/>
<text x="1179.6" y="652.4" fill="#000" stroke="#000" stroke-width="0.25" font-size="12" textLength="5.9" lengthAdjust="spacingAndGlyphs" >0</text>
<text x="1170" y="711" fill="#000" stroke="#000" stroke-width="0.25" font-size="12" textLength="17.7" lengthAdjust="spacingAndGlyphs" >RSI</text>
<path d="M1208.5 704.5 L1215 704.5 L1211.75 708 Z" fill="#000"/>
<rect x="1168" y="789" width="2" height="1" fill="#000" />
<rect x="1168" y="783" width="2" height="1" fill="#000" />
<rect x="1168" y="776" width="2" height="1" fill="#000" />
<rect x="1168" y="770" width="2" height="1" fill="#000" />
<rect x="1168" y="763" width="4" height="1" fill="#000" />
<rect x="1168" y="757" width="2" height="1" fill="#000" />
<rect x="1168" y="750" width="2" height="1" fill="#000" />
<rect x="1168" y="744" width="2" height="1" fill="#000" />
<rect x="1168" y="737" width="4" height="1" fill="#000" />
<rect x="1168" y="731" width="2" height="1" fill="#000" />
<rect x="1168" y="724" width="2" height="1" fill="#000" />
<rect x="1168" y="718" width="2" height="1" fill="#000" />
<text x="1174.5" y="741.6" fill="#000" stroke="#000" stroke-width="0.25" font-size="12" textLength="26.6" lengthAdjust="spacingAndGlyphs" >60,00</text>
<text x="1174.5" y="767.6" fill="#000" stroke="#000" stroke-width="0.25" font-size="12" textLength="26.6" lengthAdjust="spacingAndGlyphs" >40,00</text>
<path d="M1168 725.5219999999999 L1173 719.0219999999999 L1218.5 719.0219999999999 L1218.5 732.0219999999999 L1173 732.0219999999999 Z" fill="url(#flg)" stroke="#0000ff" stroke-width="1.2"/>
<text x="1179.6" y="729.9219999999999" fill="#000" stroke="#000" stroke-width="0.25" font-size="12" textLength="26.6" lengthAdjust="spacingAndGlyphs" >69,06</text>
<path d="M1168 776.3 L1173 769.8 L1218.5 769.8 L1218.5 782.8 L1173 782.8 Z" fill="url(#flg)" stroke="#7a7a7a" stroke-width="1.2"/>
<text x="1179.6" y="780.6999999999999" fill="#000" stroke="#000" stroke-width="0.25" font-size="12" textLength="11.8" lengthAdjust="spacingAndGlyphs" >30</text>
<rect x="1142.5" y="3.5" width="10" height="10" fill="url(#btg)" stroke="#a4a4a4" stroke-width="1"/>
<rect x="1154.5" y="3.5" width="10" height="10" fill="url(#btg)" stroke="#a4a4a4" stroke-width="1"/>
<rect x="1144.5" y="5.5" width="6" height="6" fill="none" stroke="#000" stroke-width="1.2"/>
<rect x="1144" y="5" width="7" height="2" fill="#000"/>
<path d="M1156.5 5.5 L1162.5 11.5 M1162.5 5.5 L1156.5 11.5" stroke="#000" stroke-width="1.1"/>
<rect x="1142.5" y="484.5" width="10" height="10" fill="url(#btg)" stroke="#a4a4a4" stroke-width="1"/>
<rect x="1154.5" y="484.5" width="10" height="10" fill="url(#btg)" stroke="#a4a4a4" stroke-width="1"/>
<rect x="1144.5" y="486.5" width="6" height="6" fill="none" stroke="#000" stroke-width="1.2"/>
<rect x="1144" y="486" width="7" height="2" fill="#000"/>
<path d="M1156.5 486.5 L1162.5 492.5 M1162.5 486.5 L1156.5 492.5" stroke="#000" stroke-width="1.1"/>
<rect x="1142.5" y="597.5" width="10" height="10" fill="url(#btg)" stroke="#a4a4a4" stroke-width="1"/>
<rect x="1154.5" y="597.5" width="10" height="10" fill="url(#btg)" stroke="#a4a4a4" stroke-width="1"/>
<rect x="1144.5" y="599.5" width="6" height="6" fill="none" stroke="#000" stroke-width="1.2"/>
<rect x="1144" y="599" width="7" height="2" fill="#000"/>
<path d="M1156.5 599.5 L1162.5 605.5 M1162.5 599.5 L1156.5 605.5" stroke="#000" stroke-width="1.1"/>
<rect x="1142.5" y="701.5" width="10" height="10" fill="url(#btg)" stroke="#a4a4a4" stroke-width="1"/>
<rect x="1154.5" y="701.5" width="10" height="10" fill="url(#btg)" stroke="#a4a4a4" stroke-width="1"/>
<rect x="1144.5" y="703.5" width="6" height="6" fill="none" stroke="#000" stroke-width="1.2"/>
<rect x="1144" y="703" width="7" height="2" fill="#000"/>
<path d="M1156.5 703.5 L1162.5 709.5 M1162.5 703.5 L1156.5 709.5" stroke="#000" stroke-width="1.1"/>
<rect x="29" y="795" width="1" height="3" fill="#000" />
<text x="31" y="807.8" fill="#000" stroke="#000" stroke-width="0.25" font-size="12" textLength="18.3" lengthAdjust="spacingAndGlyphs" >Feb</text>
<rect x="71" y="795" width="1" height="3" fill="#000" />
<text x="73" y="807.8" fill="#000" stroke="#000" stroke-width="0.25" font-size="12" textLength="17.7" lengthAdjust="spacingAndGlyphs" >Mrz</text>
<rect x="118" y="795" width="1" height="3" fill="#000" />
<text x="120" y="807.8" fill="#000" stroke="#000" stroke-width="0.25" font-size="12" textLength="16.5" lengthAdjust="spacingAndGlyphs" >Apr</text>
<rect x="159" y="795" width="1" height="3" fill="#000" />
<text x="161" y="807.8" fill="#000" stroke="#000" stroke-width="0.25" font-size="12" textLength="17.1" lengthAdjust="spacingAndGlyphs" >Mai</text>
<rect x="203" y="795" width="1" height="3" fill="#000" />
<text x="205" y="807.8" fill="#000" stroke="#000" stroke-width="0.25" font-size="12" textLength="17.1" lengthAdjust="spacingAndGlyphs" >Jun</text>
<rect x="248" y="795" width="1" height="3" fill="#000" />
<text x="250" y="807.8" fill="#000" stroke="#000" stroke-width="0.25" font-size="12" textLength="13.6" lengthAdjust="spacingAndGlyphs" >Jul</text>
<rect x="294" y="795" width="1" height="3" fill="#000" />
<text x="296" y="807.8" fill="#000" stroke="#000" stroke-width="0.25" font-size="12" textLength="18.9" lengthAdjust="spacingAndGlyphs" >Aug</text>
<rect x="339" y="795" width="1" height="3" fill="#000" />
<text x="341" y="807.8" fill="#000" stroke="#000" stroke-width="0.25" font-size="12" textLength="18.9" lengthAdjust="spacingAndGlyphs" >Sep</text>
<rect x="384" y="795" width="1" height="3" fill="#000" />
<text x="386" y="807.8" fill="#000" stroke="#000" stroke-width="0.25" font-size="12" textLength="16.5" lengthAdjust="spacingAndGlyphs" >Okt</text>
<rect x="428" y="795" width="1" height="3" fill="#000" />
<text x="430" y="807.8" fill="#000" stroke="#000" stroke-width="0.25" font-size="12" textLength="18.9" lengthAdjust="spacingAndGlyphs" >Nov</text>
<rect x="473" y="795" width="1" height="3" fill="#000" />
<text x="475" y="807.8" fill="#000" stroke="#000" stroke-width="0.25" font-size="12" textLength="18.9" lengthAdjust="spacingAndGlyphs" >Dez</text>
<rect x="516" y="795" width="1" height="3" fill="#000" />
<text x="518" y="807.8" fill="#000" stroke="#000" stroke-width="0.25" font-size="12" textLength="22.8" lengthAdjust="spacingAndGlyphs" >2011</text>
<rect x="560" y="795" width="1" height="3" fill="#000" />
<text x="562" y="807.8" fill="#000" stroke="#000" stroke-width="0.25" font-size="12" textLength="18.3" lengthAdjust="spacingAndGlyphs" >Feb</text>
<rect x="601" y="795" width="1" height="3" fill="#000" />
<text x="603" y="807.8" fill="#000" stroke="#000" stroke-width="0.25" font-size="12" textLength="17.7" lengthAdjust="spacingAndGlyphs" >Mrz</text>
<rect x="648" y="795" width="1" height="3" fill="#000" />
<text x="650" y="807.8" fill="#000" stroke="#000" stroke-width="0.25" font-size="12" textLength="16.5" lengthAdjust="spacingAndGlyphs" >Apr</text>
<rect x="688" y="795" width="1" height="3" fill="#000" />
<text x="690" y="807.8" fill="#000" stroke="#000" stroke-width="0.25" font-size="12" textLength="17.1" lengthAdjust="spacingAndGlyphs" >Mai</text>
<rect x="733" y="795" width="1" height="3" fill="#000" />
<text x="735" y="807.8" fill="#000" stroke="#000" stroke-width="0.25" font-size="12" textLength="17.1" lengthAdjust="spacingAndGlyphs" >Jun</text>
<rect x="779" y="795" width="1" height="3" fill="#000" />
<text x="781" y="807.8" fill="#000" stroke="#000" stroke-width="0.25" font-size="12" textLength="13.6" lengthAdjust="spacingAndGlyphs" >Jul</text>
<rect x="834" y="795" width="1" height="3" fill="#000" />
<text x="836" y="807.8" fill="#000" stroke="#000" stroke-width="0.25" font-size="12" textLength="18.9" lengthAdjust="spacingAndGlyphs" >Aug</text>
<rect x="898" y="795" width="1" height="3" fill="#000" />
<text x="900" y="807.8" fill="#000" stroke="#000" stroke-width="0.25" font-size="12" textLength="18.9" lengthAdjust="spacingAndGlyphs" >Sep</text>
<rect x="960" y="795" width="1" height="3" fill="#000" />
<text x="962" y="807.8" fill="#000" stroke="#000" stroke-width="0.25" font-size="12" textLength="16.5" lengthAdjust="spacingAndGlyphs" >Okt</text>
<rect x="1024" y="795" width="1" height="3" fill="#000" />
<text x="1026" y="807.8" fill="#000" stroke="#000" stroke-width="0.25" font-size="12" textLength="18.9" lengthAdjust="spacingAndGlyphs" >Nov</text>
<rect x="1086" y="795" width="1" height="3" fill="#000" />
<text x="1088" y="807.8" fill="#000" stroke="#000" stroke-width="0.25" font-size="12" textLength="18.9" lengthAdjust="spacingAndGlyphs" >Dez</text>
<rect x="1170.5" y="795.5" width="12" height="12" fill="#f4f4f4" stroke="#c8c8c8" stroke-width="1"/>
<rect x="1184.5" y="795.5" width="12" height="12" fill="#f4f4f4" stroke="#c8c8c8" stroke-width="1"/>
<rect x="1198.5" y="795.5" width="12" height="12" fill="#f4f4f4" stroke="#c8c8c8" stroke-width="1"/>
<path d="M1171 801.5 H1182 M1174 799 L1172 801.5 L1174 804 M1179 799 L1181 801.5 L1179 804" stroke="#000" stroke-width="1.1" fill="none"/>
<path d="M1185 801.5 H1196 M1187.5 799 L1185.5 801.5 L1187.5 804 M1193.5 799 L1195.5 801.5 L1193.5 804" stroke="#000" stroke-width="1.1" fill="none"/>
<path d="M1198.5 802 L1200.5 799.5 L1202.5 801.5 L1204.5 799.5 L1206 798.5 L1208.5 801.5" stroke="#000" stroke-width="0.9" fill="none"/>
<rect x="1221" y="403" width="1" height="2" fill="#8c8c8c" />
<rect x="1221" y="408" width="1" height="2" fill="#8c8c8c" />
<rect x="1221" y="413" width="1" height="2" fill="#8c8c8c" />
<rect x="1221" y="418" width="1" height="2" fill="#8c8c8c" />
<rect x="1221" y="423" width="1" height="2" fill="#8c8c8c" />
<rect x="1221" y="428" width="1" height="2" fill="#8c8c8c" />
<rect x="1221" y="433" width="1" height="2" fill="#8c8c8c" />
<rect x="1221" y="438" width="1" height="2" fill="#8c8c8c" />
<rect x="1221" y="443" width="1" height="2" fill="#8c8c8c" />
<rect x="1221" y="448" width="1" height="2" fill="#8c8c8c" />
<rect x="1.5" y="0.5" width="1165" height="479" fill="none" stroke="#ff0000" stroke-width="1" shape-rendering="crispEdges"/>
</svg>
</body></html>
